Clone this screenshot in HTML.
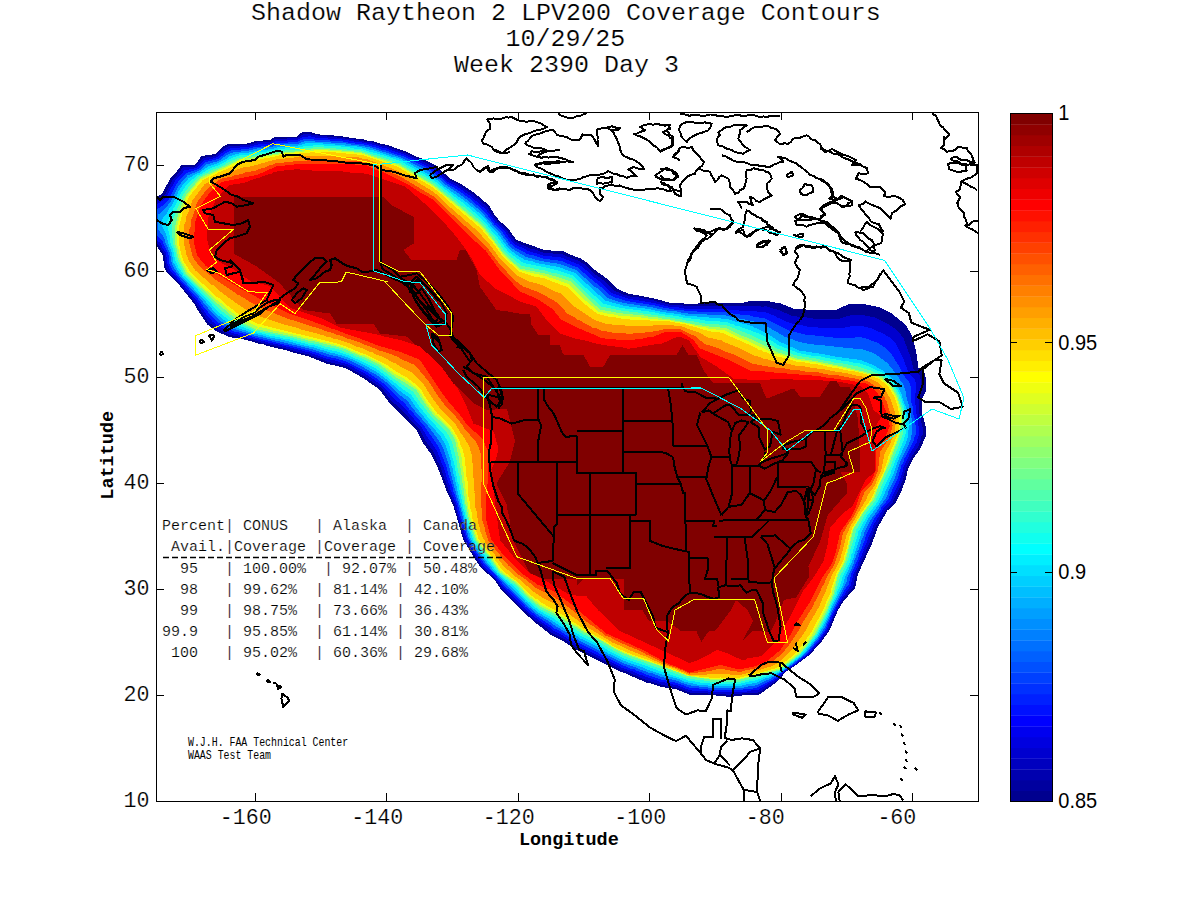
<!DOCTYPE html>
<html><head><meta charset="utf-8"><style>html,body{margin:0;padding:0;background:#fff;width:1200px;height:900px;overflow:hidden}</style></head><body>
<svg width="1200" height="900" viewBox="0 0 1200 900" style="position:absolute;left:0;top:0">
<defs><clipPath id="pc"><rect x="156.5" y="112.5" width="822" height="689"/></clipPath></defs>
<g clip-path="url(#pc)" shape-rendering="crispEdges">
<path fill="#00008f" fill-rule="evenodd" d="M140.0 197.0L140.0 246.0L156.5 246.0L163.0 255.5L164.0 267.0L166.5 272.0L177.5 283.0L194.0 303.5L198.5 311.5L207.5 324.5L216.0 331.0L229.0 337.0L246.5 340.0L260.0 344.0L263.5 344.5L265.5 345.5L289.0 351.0L291.0 352.0L309.0 356.5L326.0 363.5L345.5 368.0L363.0 378.0L379.5 389.5L389.5 403.0L417.0 430.5L423.0 443.0L431.0 454.0L438.5 469.5L446.5 490.5L453.5 506.0L463.0 539.0L473.0 556.0L481.0 568.0L494.0 579.0L501.0 589.5L523.0 611.5L534.5 622.0L550.5 634.5L563.0 641.0L574.0 648.5L589.5 656.0L590.5 657.0L619.5 671.5L625.5 673.5L646.5 682.5L648.0 682.5L661.5 687.0L675.5 689.0L689.0 694.5L716.0 695.5L716.5 696.0L725.0 696.0L725.5 696.5L733.5 696.5L734.0 696.0L741.0 696.0L741.5 695.5L759.5 694.5L777.0 682.0L785.5 672.0L795.5 665.5L809.5 655.0L822.0 641.0L828.0 632.5L830.5 628.0L838.0 610.0L844.0 600.5L855.0 588.0L858.0 574.0L872.0 543.5L878.0 527.0L887.5 510.5L895.0 503.5L902.5 488.5L903.0 486.0L905.5 480.5L908.0 469.0L913.0 459.0L921.0 447.5L925.5 436.5L925.5 425.5L922.5 414.5L922.0 404.0L921.5 403.5L921.5 400.0L925.5 392.0L925.5 389.0L926.0 388.5L926.5 380.0L925.0 376.0L924.5 372.5L923.5 371.0L918.5 367.5L916.5 353.5L912.5 337.0L906.0 325.0L891.5 313.5L878.5 307.0L863.5 304.0L857.0 304.0L856.5 303.5L850.0 303.5L836.5 309.5L813.0 310.0L812.5 309.5L805.5 309.5L805.0 309.0L797.5 309.0L797.0 308.5L793.0 308.5L780.5 303.5L770.0 301.5L767.5 300.5L748.0 301.5L747.5 302.0L744.0 302.0L743.5 302.5L740.0 302.5L735.5 303.5L712.0 302.5L711.5 303.0L684.0 304.0L683.5 303.5L669.0 302.5L654.5 298.5L628.0 293.5L616.5 288.5L606.0 278.0L593.0 268.5L585.5 261.5L580.5 258.5L570.0 254.5L564.0 251.5L544.5 250.0L516.5 240.0L507.0 227.0L499.0 220.5L494.5 214.5L489.0 205.5L474.5 193.0L459.5 183.0L450.0 178.5L435.0 165.0L422.0 158.5L417.5 157.0L407.0 152.0L387.5 145.0L382.0 144.0L372.0 141.0L366.5 140.5L363.5 139.5L348.5 137.5L348.0 137.0L345.0 137.0L341.5 136.0L319.5 134.5L319.0 134.0L316.0 134.0L310.5 132.0L301.5 132.5L296.5 136.5L275.0 137.0L270.0 140.0L256.0 141.0L247.5 143.5L228.0 144.0L223.5 146.0L215.0 154.0L201.5 156.0L195.0 165.0L181.5 165.0L177.5 170.5L171.0 177.0L162.0 194.0L157.0 196.5Z"/>
<path fill="#0000cf" fill-rule="evenodd" d="M145.0 202.0L144.5 204.5L144.5 222.0L144.0 222.5L144.0 242.0L156.5 243.5L159.0 245.5L164.5 254.5L166.0 267.0L168.0 271.0L179.0 282.5L184.0 289.0L190.5 296.0L197.0 304.5L197.5 306.0L208.5 322.0L218.5 329.5L230.0 335.0L238.5 336.5L242.5 338.0L245.0 338.0L258.5 341.5L260.5 342.5L264.0 343.0L266.0 344.0L268.0 344.0L290.0 349.5L297.5 352.0L309.0 354.5L310.5 355.5L323.0 359.5L327.0 361.5L346.0 366.0L364.0 376.0L382.0 388.5L392.0 401.5L398.5 407.0L419.0 428.5L426.0 441.5L434.0 452.5L437.5 461.5L441.0 468.5L449.0 491.5L455.0 505.5L455.5 509.0L457.0 512.5L458.0 518.0L462.0 530.0L462.0 531.5L464.5 539.0L467.0 544.0L482.5 567.5L495.0 578.5L502.5 589.0L519.5 606.0L535.5 620.5L541.0 624.0L551.5 632.5L564.0 639.0L575.0 646.5L620.5 669.5L626.5 671.5L643.5 679.0L659.0 684.0L665.0 685.5L675.5 687.0L677.0 688.0L684.0 690.0L687.0 691.5L688.5 691.5L690.0 692.5L706.0 693.0L710.0 694.0L725.0 694.0L725.5 694.5L733.5 694.5L734.0 694.0L741.0 694.0L741.5 693.5L758.5 692.5L777.0 680.5L784.5 672.0L795.0 665.0L809.5 654.0L811.5 651.0L821.0 640.5L828.0 630.5L834.5 614.5L837.0 609.5L839.0 607.0L839.5 605.0L845.5 596.0L853.0 587.0L856.0 573.5L866.0 551.5L866.5 549.0L869.5 543.0L871.0 537.5L873.0 534.0L875.0 528.0L885.5 509.5L893.0 502.0L894.0 499.0L900.0 487.5L903.5 478.0L903.5 476.5L907.0 465.5L911.0 457.5L918.5 446.0L921.0 439.5L921.5 436.5L922.5 435.0L922.5 427.0L921.0 421.5L920.5 416.5L919.5 414.0L919.0 405.0L918.5 404.5L918.5 398.0L921.0 391.0L921.0 387.5L921.5 387.0L921.0 382.5L921.5 381.5L919.5 375.5L913.5 369.5L910.0 355.5L903.5 338.5L897.5 330.5L886.5 323.0L875.0 317.5L862.5 315.0L851.5 314.5L850.0 315.5L848.5 315.5L839.5 318.5L826.5 318.5L826.0 319.0L825.5 318.5L812.5 318.5L812.0 318.0L792.5 316.0L778.5 310.0L765.0 306.0L763.5 306.5L760.5 306.5L760.0 306.0L728.5 306.5L728.0 306.0L720.5 306.0L720.0 305.5L683.0 306.0L682.5 305.5L668.5 304.5L653.5 300.5L638.5 297.5L632.5 297.0L628.0 296.0L625.0 294.5L623.5 294.5L615.0 291.0L604.5 281.0L595.5 274.5L584.0 264.0L579.0 261.0L565.5 256.0L563.0 254.5L543.0 252.5L535.0 249.5L530.5 248.5L515.5 242.0L505.0 228.0L501.5 225.5L497.5 221.5L489.5 211.0L487.0 206.5L473.5 195.0L458.5 185.0L449.0 180.0L441.5 173.0L432.5 166.0L406.0 153.5L386.5 146.5L381.0 145.5L371.5 142.5L366.0 142.0L351.0 139.0L344.5 138.5L341.0 137.5L336.5 137.5L336.0 137.0L318.5 136.0L318.0 135.5L312.5 135.0L310.0 134.0L302.5 134.5L297.5 138.0L287.0 138.0L286.5 138.5L282.0 138.5L281.5 139.0L275.0 139.0L271.0 141.5L257.0 142.5L248.5 145.0L241.5 145.0L237.5 146.0L229.0 146.0L224.5 148.0L216.0 155.5L213.0 156.5L203.0 158.0L195.5 166.5L183.0 167.5L177.5 174.5L173.0 179.0L165.0 194.5L162.5 197.0L160.0 198.0L158.5 199.5L150.0 200.5Z"/>
<path fill="#0010ff" fill-rule="evenodd" d="M149.5 206.5L149.0 222.0L148.5 222.5L148.5 237.5L156.5 240.0L160.5 243.0L162.5 247.5L166.0 253.0L167.5 264.0L170.0 270.0L195.5 299.0L207.5 316.0L212.5 321.5L220.5 327.5L231.5 333.0L237.0 334.0L240.5 335.5L245.0 336.0L248.5 337.5L263.5 341.0L265.5 342.0L278.0 344.5L303.5 351.0L305.5 352.0L309.5 352.5L327.0 359.0L334.5 360.5L348.0 364.5L365.5 374.0L383.0 386.0L393.0 397.5L402.5 406.0L413.0 417.5L415.0 420.5L421.5 427.0L426.0 435.0L436.5 450.0L440.0 458.0L442.0 464.5L443.5 467.0L443.5 468.5L444.5 470.0L444.5 471.5L446.0 474.5L446.0 476.0L447.0 477.5L447.0 479.0L449.5 485.0L450.5 489.5L456.5 505.0L458.5 514.0L465.5 536.0L465.5 537.5L470.0 546.0L484.0 566.5L496.0 578.0L504.0 588.0L531.5 614.5L539.0 620.5L549.0 627.0L553.0 630.5L561.0 634.5L576.5 644.5L621.5 667.5L631.5 671.0L640.5 675.0L643.0 675.5L645.5 677.0L650.0 678.0L659.5 681.5L672.0 684.0L674.5 685.0L676.5 685.0L688.0 689.5L692.0 690.5L696.5 690.5L697.0 691.0L706.0 691.0L710.0 692.0L733.0 692.5L733.5 692.0L740.5 692.0L741.0 691.5L746.5 691.5L750.5 690.5L758.0 690.0L772.5 681.0L773.5 681.0L781.5 674.5L784.0 671.5L795.0 664.0L806.5 655.0L817.5 643.0L826.5 630.0L836.5 607.5L843.5 595.5L845.5 593.5L846.0 592.0L850.5 586.0L854.0 572.5L857.5 566.0L858.5 562.0L861.5 556.0L862.0 553.5L863.5 551.0L863.5 549.5L867.0 542.0L868.5 536.5L872.0 529.5L873.5 525.0L883.5 508.5L891.0 500.0L893.5 493.5L899.0 482.5L903.0 470.5L903.5 467.0L909.5 454.5L916.5 442.5L919.0 434.5L919.0 426.5L918.5 426.0L918.0 419.5L916.5 414.0L916.0 407.0L914.5 400.0L914.5 396.5L916.0 390.5L916.0 384.5L915.0 380.0L908.5 372.5L903.0 358.0L895.5 343.5L889.5 337.5L883.0 333.5L870.5 328.0L861.5 326.0L856.5 326.0L855.5 325.5L842.5 328.0L831.0 328.0L830.5 327.5L826.5 327.5L826.0 328.0L825.5 327.5L818.0 327.5L817.5 327.0L807.0 326.5L801.5 325.0L798.0 325.0L787.0 322.0L778.5 317.5L777.5 317.5L775.5 316.0L764.5 312.0L759.5 312.0L755.0 311.0L754.0 311.5L750.5 310.5L738.5 310.5L738.0 310.0L735.5 310.5L735.0 310.0L729.5 310.0L726.0 309.0L719.5 309.0L719.0 308.5L702.0 308.5L701.5 309.0L700.5 308.5L684.0 308.5L676.0 307.0L668.0 306.5L651.5 302.5L629.5 299.0L614.0 294.0L611.5 292.5L601.5 283.0L591.0 275.0L586.5 270.5L579.0 264.5L561.0 257.5L543.0 255.5L534.0 252.5L532.5 252.5L527.0 250.5L525.0 249.0L515.0 244.5L512.0 241.5L504.5 231.0L495.5 222.5L486.0 209.5L469.0 195.0L457.5 187.0L447.5 181.5L437.0 172.0L431.5 168.0L405.0 155.0L386.5 148.5L383.0 148.0L379.5 146.5L370.0 144.0L359.5 142.0L356.5 142.0L346.0 140.0L342.0 140.0L341.5 139.5L314.5 137.5L308.5 136.0L308.0 136.5L304.0 136.5L297.5 140.0L287.5 140.0L287.0 140.5L282.0 140.5L281.5 141.0L276.0 141.0L271.0 143.5L257.5 144.5L248.5 147.0L241.5 147.0L237.5 148.0L229.5 148.5L224.5 151.0L216.5 157.5L206.5 160.0L204.5 160.0L196.5 168.0L184.0 170.5L182.5 173.0L175.5 180.5L170.0 190.0L166.5 197.5L159.5 203.0L152.5 205.5L151.0 205.5Z"/>
<path fill="#0050ff" fill-rule="evenodd" d="M154.0 210.5L153.5 222.0L153.0 222.5L153.0 233.0L159.5 237.5L162.5 241.0L164.0 245.5L167.5 251.5L169.0 257.5L169.5 263.5L172.0 269.0L180.0 279.0L198.5 299.5L204.5 308.0L215.0 320.0L222.5 325.5L230.5 330.0L234.5 331.5L246.5 334.5L253.0 337.0L311.5 351.0L313.0 352.0L314.5 352.0L328.5 357.0L336.0 358.5L347.5 362.0L369.5 373.5L384.5 384.0L398.0 398.0L404.0 402.5L409.5 409.5L414.0 414.0L423.5 425.0L438.5 446.5L446.0 465.5L448.5 475.5L452.5 487.0L453.5 492.0L455.5 496.5L455.5 498.5L458.0 504.5L460.5 515.5L468.0 539.5L471.0 545.0L485.0 565.0L496.5 576.5L505.5 587.0L509.5 590.0L525.5 606.5L537.0 616.5L551.0 625.5L554.5 628.5L561.5 632.0L577.0 642.0L592.5 649.5L603.5 656.0L619.5 664.0L630.5 668.5L634.5 669.5L637.0 671.0L641.0 672.0L646.0 674.5L661.5 679.5L677.0 683.0L689.0 687.5L699.0 688.5L699.5 689.0L706.0 689.0L710.0 690.0L732.5 690.5L733.0 690.0L740.5 690.0L748.0 688.5L752.5 688.5L757.0 687.5L774.5 678.5L783.5 671.0L794.5 663.5L804.5 655.5L809.5 650.5L819.0 639.0L825.5 629.0L832.5 612.5L837.0 604.5L837.0 603.5L845.0 589.5L848.5 584.5L851.0 574.5L858.0 558.5L859.5 553.0L862.5 546.5L863.0 543.5L864.5 541.0L866.0 535.0L873.0 520.5L881.0 509.0L881.5 507.5L888.5 499.0L888.5 498.0L898.0 477.5L901.5 465.5L903.5 462.0L904.5 458.5L914.0 440.0L914.0 438.0L915.5 434.5L915.5 425.0L915.0 424.5L915.0 420.5L913.5 414.5L912.5 406.0L911.0 401.0L910.5 386.5L909.5 384.5L909.5 382.5L903.5 375.0L901.0 369.5L892.0 355.0L885.5 348.0L878.0 343.0L864.5 338.0L859.5 337.0L855.0 337.0L854.5 337.5L833.0 337.5L832.5 337.0L815.5 336.0L815.0 335.5L807.0 335.0L787.5 330.0L765.0 318.5L760.5 318.0L756.5 316.5L753.0 316.5L750.5 315.5L735.0 314.0L727.5 312.5L718.5 312.0L718.0 311.5L697.0 311.5L696.5 311.0L686.0 311.0L682.0 310.0L673.5 309.5L673.0 309.0L664.5 308.0L652.5 305.0L626.5 301.0L616.0 297.5L614.5 297.5L608.5 294.5L600.5 286.5L589.0 277.5L578.0 267.5L572.0 265.5L569.5 264.0L568.0 264.0L561.5 261.0L546.5 259.0L546.0 258.5L543.0 258.5L533.5 255.5L530.0 255.0L527.0 254.0L522.5 251.0L521.5 251.0L513.5 246.5L510.5 243.5L501.5 231.0L494.5 224.5L485.0 212.0L469.5 198.5L458.5 190.5L447.0 183.5L440.5 177.5L430.5 170.0L402.5 156.0L392.5 153.0L385.0 150.0L381.5 149.5L378.0 148.0L368.5 145.5L358.5 143.5L355.0 143.5L351.5 142.5L347.5 142.5L347.0 142.0L343.5 142.0L343.0 141.5L335.5 141.0L335.0 140.5L329.5 140.5L329.0 140.0L323.5 140.0L323.0 139.5L314.0 139.5L313.5 139.0L307.0 138.5L306.5 139.0L304.0 139.0L297.0 142.0L288.0 142.0L287.5 142.5L276.5 143.0L272.5 145.0L267.5 145.5L267.0 146.0L261.5 146.0L261.0 146.5L258.0 146.5L250.5 148.0L248.0 149.0L241.5 149.0L241.0 149.5L231.0 150.5L226.5 152.5L218.0 159.0L206.0 162.0L198.5 169.0L186.0 173.0L178.0 182.0L175.0 186.5L168.5 199.5L162.0 206.0L157.0 209.5Z"/>
<path fill="#009fff" fill-rule="evenodd" d="M180.5 183.5L177.0 188.5L170.5 202.0L165.5 208.0L158.5 214.5L158.0 222.0L157.5 222.5L157.5 229.0L162.5 235.0L165.0 240.0L165.5 243.0L170.0 253.0L172.0 264.5L174.5 269.0L180.5 277.0L199.0 297.0L212.0 313.0L222.0 322.0L234.0 329.0L250.5 334.0L252.0 335.0L313.5 349.5L320.0 352.0L321.5 352.0L330.0 355.0L337.5 356.5L349.5 360.5L361.0 366.0L376.5 375.0L386.0 382.0L398.5 394.0L404.5 398.5L408.5 402.5L412.0 407.5L428.0 426.0L437.5 438.5L443.0 447.5L448.5 464.0L454.5 488.0L461.0 509.5L461.0 511.5L462.0 513.5L463.0 519.0L465.0 524.0L468.5 537.0L472.0 544.0L486.0 563.5L494.0 572.5L496.0 574.0L498.0 577.0L506.0 585.0L510.0 588.0L526.5 605.0L537.0 614.0L548.5 621.0L556.0 626.5L567.0 632.5L580.0 641.0L624.0 663.5L636.0 667.5L638.5 669.0L646.5 671.5L648.0 672.5L652.5 673.5L661.5 677.0L677.5 681.0L688.0 685.0L690.0 685.0L692.0 686.0L706.0 687.0L710.0 688.0L732.0 688.5L732.5 688.0L743.5 687.5L744.0 687.0L755.5 685.5L768.0 679.5L769.0 679.5L781.0 672.5L802.0 656.5L808.5 650.0L818.5 637.5L825.5 626.0L828.0 619.5L831.0 614.0L832.0 610.5L846.5 582.5L847.5 577.5L854.0 563.0L854.0 561.5L857.5 553.0L857.5 551.5L859.0 549.0L859.0 547.5L860.5 544.5L861.0 541.5L863.5 535.5L863.5 534.0L869.0 523.5L869.0 522.5L879.0 508.0L879.5 506.5L885.5 498.5L888.0 493.5L888.5 491.0L895.5 476.5L901.0 460.0L909.0 443.5L911.0 438.5L911.0 436.5L912.0 434.0L911.5 417.5L910.5 414.5L910.5 412.0L909.5 410.0L909.0 405.5L907.0 400.0L906.0 393.0L903.5 384.5L901.0 381.5L897.5 375.5L889.0 365.0L885.5 361.5L878.0 356.0L871.5 352.0L867.0 351.0L860.5 348.5L852.5 348.5L852.0 348.0L834.5 347.0L834.0 346.5L825.5 346.0L825.0 345.5L814.0 344.5L813.5 344.0L807.0 343.5L799.5 342.0L784.5 336.5L764.5 325.0L750.5 320.5L748.0 320.5L741.5 318.5L739.0 318.5L726.0 315.5L688.0 313.5L687.5 313.0L683.5 313.0L676.5 311.5L669.0 311.0L650.5 307.0L623.5 303.0L610.0 299.0L605.5 296.5L597.0 288.0L594.5 286.5L576.0 270.0L560.0 264.0L541.0 261.0L526.0 257.0L512.0 248.5L509.5 246.0L500.5 233.5L494.0 227.0L490.5 222.0L480.0 210.5L465.5 198.5L456.0 191.5L445.0 184.5L438.5 178.5L429.5 172.0L402.5 158.0L383.5 151.5L382.0 151.5L369.5 147.5L365.5 147.0L363.5 146.0L353.5 145.0L346.0 143.5L336.5 143.0L336.0 142.5L330.5 142.5L330.0 142.0L324.5 142.0L324.0 141.5L314.5 141.5L314.0 141.0L305.0 141.0L299.0 143.5L277.0 145.0L272.0 147.0L257.5 148.5L247.0 151.0L241.5 151.0L241.0 151.5L233.0 152.5L228.5 154.0L218.5 161.0L206.5 164.5L199.5 170.5L187.5 175.5Z"/>
<path fill="#00dfff" fill-rule="evenodd" d="M182.5 185.5L178.5 191.5L172.5 204.5L170.0 207.5L166.0 214.5L163.5 217.0L162.5 219.0L162.0 226.0L165.5 232.5L167.0 237.0L168.0 243.0L171.5 251.5L173.5 262.5L176.0 267.5L183.0 277.5L205.0 300.5L207.0 303.5L217.0 314.5L224.0 320.0L234.0 326.5L243.5 330.0L245.0 330.0L249.0 332.0L250.5 332.0L253.0 333.5L261.0 335.0L265.5 336.5L267.5 336.5L269.5 337.5L281.0 339.5L306.0 346.0L314.0 347.5L331.5 353.0L337.5 354.0L339.0 355.0L340.5 355.0L350.5 358.5L367.0 366.5L376.5 372.0L385.5 378.5L400.0 391.0L407.0 396.0L410.5 399.5L416.5 408.0L428.5 422.5L440.0 435.5L445.5 444.5L450.5 460.5L451.0 464.5L452.5 468.5L452.5 470.5L455.0 479.0L456.0 485.0L457.0 487.0L457.0 489.0L464.5 519.0L466.5 524.0L466.5 525.5L469.5 533.5L470.5 538.0L473.0 543.0L485.0 559.5L497.5 574.5L507.0 583.5L510.5 586.0L525.5 601.5L537.5 612.0L552.0 620.5L559.0 625.5L574.0 634.0L580.5 638.5L596.0 646.0L608.5 653.5L618.5 658.5L632.0 664.0L643.0 667.5L645.5 669.0L663.5 675.0L678.5 679.0L685.5 682.0L697.5 684.5L706.5 685.0L710.0 686.0L740.0 686.0L743.0 685.0L755.5 683.0L765.5 678.5L770.5 677.0L781.0 671.5L800.5 656.5L807.0 650.0L817.0 637.5L827.0 619.5L831.0 609.5L843.0 584.5L845.5 576.0L852.0 562.0L852.0 560.5L853.5 557.5L853.5 556.0L854.5 554.5L855.0 551.5L856.0 550.0L860.5 536.0L861.0 532.5L869.0 517.5L879.0 504.0L884.5 494.5L885.5 491.0L893.5 474.0L897.0 463.0L906.0 442.5L908.0 436.5L908.5 430.0L909.0 429.5L908.5 428.0L908.5 418.0L906.5 409.0L902.5 398.0L902.0 395.0L897.0 385.0L893.5 380.0L882.0 369.5L881.0 369.5L872.0 364.5L860.5 360.0L848.5 358.5L845.0 357.5L842.0 357.5L841.5 357.0L838.5 357.0L838.0 356.5L835.0 356.5L834.5 356.0L825.5 355.0L825.0 354.5L799.5 350.5L779.0 341.5L769.0 334.5L756.5 328.0L755.0 328.0L752.5 326.5L745.0 324.0L743.5 324.0L738.5 322.0L736.5 322.0L727.5 319.0L684.5 315.5L681.5 314.5L662.5 312.0L648.5 309.0L625.0 306.0L605.0 300.5L575.0 273.0L558.5 267.0L536.5 263.0L532.5 261.5L525.0 260.0L515.5 254.0L513.5 252.0L512.0 251.5L507.0 246.5L498.0 234.0L493.0 229.0L487.0 221.0L478.0 212.0L466.0 202.0L444.5 186.5L439.0 181.5L431.0 175.5L401.5 159.5L392.5 156.5L391.0 156.5L389.5 155.5L374.0 150.5L366.5 149.0L364.5 148.0L357.0 146.5L347.5 146.0L339.5 144.5L334.5 144.5L334.0 144.0L329.0 144.0L328.5 143.5L323.0 143.5L322.5 143.0L316.5 143.0L316.0 143.5L312.0 143.0L311.0 143.5L310.5 143.0L307.0 143.0L298.5 145.5L278.0 147.0L274.0 148.5L271.5 148.5L268.0 149.5L261.0 150.0L246.0 153.0L238.5 153.5L230.0 156.0L227.5 158.0L217.5 163.5L208.0 166.5L199.0 173.0L196.5 173.5L188.5 178.5Z"/>
<path fill="#20ffdf" fill-rule="evenodd" d="M185.0 187.0L180.0 194.5L177.5 201.5L172.5 210.0L172.5 211.0L167.0 221.5L167.5 227.0L170.0 237.0L170.5 243.0L173.0 249.5L175.0 260.0L178.5 267.5L182.5 273.0L183.5 275.5L198.0 290.0L219.0 312.5L234.5 324.0L251.5 330.5L254.0 332.0L264.5 334.0L269.0 335.5L273.5 336.0L276.0 337.0L278.0 337.0L282.5 338.5L289.5 339.5L308.5 344.5L314.5 345.5L329.5 350.0L339.0 352.0L351.5 356.5L355.0 358.5L359.5 360.0L377.5 369.5L404.0 390.0L411.0 394.5L419.0 406.0L429.0 418.5L443.0 433.5L448.5 442.5L455.0 467.0L456.0 474.5L457.0 477.0L457.5 481.5L458.5 484.0L459.0 488.5L460.0 491.0L464.0 511.0L465.0 513.0L465.0 515.0L473.5 541.0L497.5 572.5L502.0 577.0L513.0 585.5L526.0 599.5L539.0 610.5L553.5 618.5L559.0 622.5L582.0 636.5L599.5 645.0L612.5 653.0L625.5 659.0L649.0 667.0L650.5 668.0L655.0 669.0L658.0 670.5L679.5 677.5L681.0 677.5L688.0 680.5L699.0 682.0L699.5 682.5L710.0 683.5L710.5 684.0L739.5 684.0L749.0 681.5L754.0 681.0L777.0 672.5L782.5 669.5L802.0 654.0L815.5 637.5L826.0 618.5L834.0 599.5L836.5 595.0L837.0 592.5L841.0 583.0L842.5 577.0L849.5 562.5L851.5 554.5L852.5 553.0L856.0 540.0L857.5 536.5L858.5 531.5L867.0 516.0L876.5 503.5L881.5 494.5L883.5 488.5L890.5 474.0L891.5 470.0L893.5 466.5L895.5 460.0L899.0 452.5L900.0 448.5L901.5 446.0L902.0 443.5L903.0 442.5L906.0 432.0L906.0 420.5L906.5 418.5L904.0 406.0L903.0 404.5L900.5 395.5L892.5 381.5L883.0 373.0L868.5 366.5L858.0 363.0L855.5 363.0L844.0 360.5L841.0 360.5L840.5 360.0L838.0 360.0L832.0 358.5L829.5 358.5L829.0 358.0L826.5 358.0L820.5 356.5L811.5 355.5L798.5 353.0L784.0 347.5L781.5 346.0L779.0 345.5L765.5 337.0L757.5 333.0L737.0 325.5L735.5 325.5L733.0 324.0L731.5 324.0L727.0 322.0L712.0 321.0L711.5 320.5L704.5 320.5L704.0 320.0L700.5 320.0L700.0 319.5L693.0 319.0L689.0 318.0L685.5 318.0L676.5 316.0L661.0 314.0L652.5 312.0L621.0 308.0L603.5 303.5L586.0 288.0L573.0 275.5L557.0 270.0L555.0 270.0L550.5 268.5L523.5 263.0L508.0 251.5L497.0 236.5L491.0 230.0L485.5 222.5L476.5 214.0L462.0 202.0L458.0 199.5L447.0 190.5L445.5 190.0L437.0 182.5L432.0 179.5L430.0 177.5L400.0 161.0L380.5 154.5L367.0 151.0L362.0 149.0L353.5 148.5L350.0 147.5L341.0 147.0L340.5 146.5L323.5 145.5L323.0 145.0L316.5 145.0L316.0 145.5L313.0 145.0L312.5 145.5L306.5 145.5L298.5 147.5L278.5 149.0L276.5 150.0L274.0 150.0L264.5 152.0L261.0 152.0L246.0 155.0L239.0 155.5L231.5 158.0L220.5 164.5L210.5 168.0L200.0 174.5L198.0 175.0L191.0 180.5Z"/>
<path fill="#60ff9f" fill-rule="evenodd" d="M185.5 191.0L182.5 196.0L180.0 203.0L175.5 212.0L174.5 216.0L172.0 221.5L172.0 224.5L171.5 225.0L173.0 244.0L175.0 249.0L177.0 259.5L185.0 274.5L221.0 310.5L236.0 322.0L255.0 330.5L290.0 337.5L308.5 342.5L321.0 345.0L325.0 346.5L339.5 349.5L350.0 354.0L352.5 354.5L356.0 356.5L363.0 359.0L378.5 367.0L394.0 379.0L413.5 392.0L420.5 402.5L431.5 417.0L446.0 431.0L452.0 441.5L456.5 460.0L458.0 471.5L459.5 476.0L460.0 482.5L466.5 515.0L474.5 540.0L489.5 559.0L499.5 573.0L511.5 582.5L515.0 584.5L527.0 598.0L539.5 608.5L555.0 616.5L583.5 634.5L601.0 643.0L617.5 653.0L629.5 658.0L645.5 663.0L647.0 664.0L666.0 670.5L669.0 671.0L687.0 678.0L697.5 680.0L703.5 680.5L704.0 681.0L710.0 681.5L710.5 682.0L739.0 682.0L757.5 677.5L762.0 675.5L769.0 674.0L772.0 672.5L780.5 670.0L799.5 655.0L803.5 650.0L805.0 649.0L816.0 634.5L827.5 612.0L829.5 606.0L831.5 602.5L834.0 595.5L835.0 594.5L835.0 593.0L838.5 583.0L840.5 575.0L844.0 569.0L848.0 560.0L850.5 549.5L855.0 535.5L856.0 530.0L863.0 518.5L864.5 515.0L876.0 500.0L877.0 496.5L880.5 489.5L881.0 487.0L891.5 464.5L893.0 459.0L895.0 455.5L902.5 435.0L904.5 418.5L904.0 418.0L903.0 409.0L899.5 399.0L899.0 396.0L891.5 383.5L888.0 380.0L883.5 377.0L882.5 375.5L880.0 374.0L874.5 372.5L870.5 370.5L857.5 366.5L837.5 362.5L834.5 362.5L829.0 361.0L826.5 361.0L816.0 358.5L798.5 356.0L795.0 354.5L793.5 354.5L788.0 352.0L781.0 350.0L779.5 349.0L778.0 349.0L764.0 341.0L762.0 340.5L752.5 335.5L726.0 325.0L712.0 324.0L711.5 323.5L704.5 323.5L704.0 323.0L701.5 323.0L692.0 321.0L688.5 321.0L677.5 318.5L675.0 318.5L662.5 316.0L659.5 316.0L656.0 315.0L645.0 314.0L635.0 312.0L623.0 311.0L601.5 306.5L588.5 295.0L571.5 278.5L553.5 272.5L551.5 272.5L543.5 270.0L538.5 269.5L521.0 265.5L506.0 253.0L494.0 236.5L489.0 231.0L484.0 224.0L466.0 208.5L461.5 205.5L446.0 192.5L444.5 192.0L436.0 184.5L426.5 178.0L411.5 170.0L400.0 163.0L361.0 150.5L346.5 149.5L346.0 149.0L341.5 149.0L341.0 148.5L335.5 148.5L335.0 148.0L330.0 148.0L329.5 147.5L324.0 147.5L323.5 147.0L317.0 147.0L316.5 147.5L313.5 147.0L313.0 147.5L304.5 148.0L302.5 149.0L299.5 149.0L299.0 149.5L278.5 151.0L277.0 152.0L274.5 152.0L265.0 154.0L261.0 154.0L246.5 157.0L239.5 157.5L232.0 160.5L220.0 167.0L211.5 170.0L207.0 173.0L206.0 173.0L201.0 176.0L199.0 176.5L190.0 185.5Z"/>
<path fill="#afff50" fill-rule="evenodd" d="M187.0 193.5L185.0 197.0L179.0 211.5L175.0 226.5L175.0 243.5L177.0 250.0L177.0 252.0L179.0 259.5L186.5 274.0L214.5 301.0L237.0 320.0L255.5 329.0L291.0 336.0L308.5 340.5L310.5 340.5L332.5 346.0L334.5 346.0L344.5 349.0L360.5 356.0L364.0 357.0L380.0 365.0L395.5 377.0L416.0 389.5L424.5 403.0L434.0 415.5L449.0 429.0L455.0 440.0L459.0 458.5L459.0 461.5L460.0 465.0L460.0 468.0L460.5 468.5L460.5 471.5L461.5 475.0L461.5 478.0L462.0 478.5L462.0 481.5L463.0 485.0L463.0 488.0L463.5 488.5L465.5 503.5L466.5 506.0L468.5 517.0L476.0 540.0L491.0 558.5L500.5 572.5L516.0 583.0L528.0 596.5L540.5 607.0L556.0 614.5L584.5 632.5L602.0 641.0L618.5 651.0L630.5 656.0L670.0 669.0L687.5 676.0L710.0 679.5L710.5 680.0L738.5 680.0L780.0 669.5L801.0 652.5L815.0 634.0L826.5 611.5L833.5 594.0L838.0 575.0L845.5 561.0L853.5 529.0L863.5 512.5L874.0 499.0L878.5 486.0L889.5 463.0L900.0 434.0L901.0 425.5L902.5 419.0L902.5 416.0L902.0 415.5L901.5 409.5L898.0 399.0L898.0 397.5L890.0 384.0L881.0 377.0L860.5 370.5L858.5 370.5L842.5 366.5L815.0 361.0L797.5 358.5L779.0 352.5L777.5 352.5L750.5 339.0L741.5 335.5L725.5 328.0L703.0 326.0L700.0 325.0L697.5 325.0L665.0 318.5L662.0 318.5L661.5 318.0L658.5 318.0L658.0 317.5L648.0 316.5L647.5 316.0L644.0 316.0L643.5 315.5L622.5 313.5L622.0 313.0L619.0 313.0L618.5 312.5L616.0 312.5L600.0 309.5L587.0 298.0L570.0 281.0L547.5 274.0L520.0 268.5L504.0 254.0L482.5 225.5L433.0 184.5L399.0 164.5L360.5 152.0L318.0 148.5L317.5 149.0L304.5 150.0L300.0 151.0L278.5 153.0L278.0 153.5L239.5 159.5L200.0 178.0Z"/>
<path fill="#efff10" fill-rule="evenodd" d="M188.5 194.0L186.5 197.5L184.0 205.0L180.5 212.5L176.5 229.0L176.5 242.5L178.5 249.0L180.0 257.0L182.5 263.0L185.0 266.5L188.0 273.0L215.5 299.0L220.5 302.5L228.0 309.5L235.0 314.5L237.5 317.0L256.5 326.5L265.0 328.0L273.0 330.5L282.5 332.0L284.5 333.0L291.5 334.0L293.5 335.0L299.5 336.0L303.0 337.5L305.0 337.5L309.5 339.0L316.0 340.0L320.0 341.5L328.5 343.0L344.5 347.5L360.5 354.5L364.5 355.5L381.0 363.5L396.5 375.0L403.5 378.5L417.0 388.0L419.5 391.0L426.0 402.0L435.5 414.5L450.5 428.5L451.5 431.0L455.0 436.0L457.5 441.5L458.5 447.0L459.5 448.5L461.5 457.0L461.5 460.5L462.0 461.0L463.0 470.5L464.0 474.0L465.0 487.0L466.5 494.0L466.5 497.5L468.0 504.0L468.0 507.0L470.5 518.0L477.0 539.0L480.0 543.5L493.5 560.0L500.5 570.5L503.5 573.5L516.5 582.0L529.0 595.5L541.5 605.5L554.0 611.5L568.5 620.5L571.5 623.0L578.0 626.5L585.0 631.5L593.5 635.5L618.5 650.0L630.5 655.0L637.5 657.0L640.0 658.5L664.0 666.5L666.5 668.0L686.0 675.0L687.5 676.0L695.0 676.5L702.0 678.0L707.0 678.0L711.0 679.0L720.0 679.0L720.5 678.5L721.0 679.0L738.5 679.0L758.0 674.5L761.0 673.0L779.0 668.5L796.0 655.0L799.5 651.5L812.0 635.0L825.0 610.5L828.0 602.0L832.0 593.5L832.5 590.0L835.0 583.0L837.0 574.5L841.0 568.0L844.5 560.5L845.0 557.0L847.0 551.5L851.0 534.5L853.0 528.5L862.0 513.5L866.0 508.5L866.0 507.5L871.5 501.0L871.5 500.0L874.0 496.0L876.0 490.0L877.5 488.0L878.0 485.5L883.5 474.5L885.5 469.5L885.5 468.0L888.5 462.5L890.5 455.0L891.5 454.0L892.0 451.5L894.5 446.5L899.0 433.5L900.0 425.0L901.0 421.5L901.0 416.0L900.5 415.5L900.5 412.0L899.5 407.5L896.0 396.5L889.0 385.0L878.5 377.0L874.0 376.0L869.5 374.0L866.0 373.5L860.0 371.5L858.0 371.5L842.0 367.5L829.5 365.0L827.0 365.0L816.5 362.5L797.0 360.0L779.5 354.5L775.5 354.0L761.0 347.0L760.0 347.0L749.5 341.5L740.5 338.0L724.5 330.5L707.5 328.5L705.5 327.5L697.5 326.5L696.0 325.5L694.0 325.5L691.5 324.5L679.0 322.0L673.5 321.5L670.5 320.5L665.0 320.0L664.5 319.5L658.0 319.5L654.5 318.5L647.5 318.5L647.0 318.0L643.0 318.0L638.0 317.0L630.5 317.0L630.0 316.5L621.5 316.0L621.0 315.5L618.0 315.5L609.0 313.5L606.5 313.5L598.5 311.5L582.5 298.0L568.5 284.0L551.5 278.0L550.0 278.0L547.0 276.5L519.5 270.0L503.0 254.5L492.5 240.0L489.5 237.0L482.0 227.0L432.5 185.5L398.5 165.5L360.0 153.0L328.0 150.5L327.5 150.0L314.5 150.0L314.0 150.5L279.0 154.0L278.5 154.5L265.0 156.5L263.0 157.5L240.5 161.0L229.0 166.5L226.5 167.0L222.0 169.5L219.5 170.0L214.0 173.0L213.0 173.0L212.0 174.0L200.5 179.5Z"/>
<path fill="#ffcf00" fill-rule="evenodd" d="M189.5 196.0L186.5 202.0L185.5 206.0L182.5 212.5L178.5 229.0L178.5 242.0L182.0 257.0L184.0 262.0L186.5 265.5L189.5 271.5L217.0 297.0L219.0 298.0L225.5 304.0L239.0 314.5L258.0 324.0L337.0 343.5L346.0 346.5L361.0 353.0L365.0 354.0L385.5 364.0L396.0 371.5L406.0 377.0L418.0 386.0L421.0 389.5L426.5 399.0L437.5 413.5L450.5 425.5L459.0 439.5L460.0 443.5L463.0 450.5L464.5 457.0L464.5 460.5L465.0 461.0L466.5 476.5L467.0 477.0L467.0 481.0L467.5 481.5L468.5 496.5L469.0 497.0L470.5 509.0L471.5 511.5L472.5 518.5L478.5 538.5L483.5 546.0L497.0 562.5L502.0 570.0L512.0 578.0L517.0 581.0L529.5 594.0L536.0 599.0L537.5 599.5L540.0 602.0L558.5 612.0L560.0 613.5L565.5 616.5L572.0 621.5L576.0 623.5L586.0 630.5L603.0 639.5L610.5 644.5L619.0 649.0L633.5 655.0L648.5 660.0L655.0 663.0L664.0 666.0L666.5 667.5L670.5 668.5L690.0 676.0L708.0 677.0L708.5 677.5L720.0 677.5L720.5 677.0L721.0 677.5L738.0 678.0L757.5 673.5L761.0 672.0L764.5 671.5L774.5 668.5L776.0 667.5L777.5 667.5L790.0 658.0L798.0 650.5L811.5 632.0L824.0 608.0L826.5 601.0L830.5 592.5L830.5 591.0L836.0 574.0L840.5 566.5L843.5 560.0L844.0 556.5L847.5 545.5L849.0 537.0L850.0 535.5L852.0 528.0L855.5 523.0L861.0 513.0L870.0 500.5L874.5 491.5L874.5 490.5L876.5 487.5L877.0 485.0L884.0 470.5L884.5 467.5L886.5 463.5L889.0 454.5L890.0 453.5L891.0 450.0L892.5 447.5L898.0 432.5L899.0 427.5L899.5 416.0L898.0 408.0L894.5 397.0L887.5 385.5L879.0 379.0L869.0 375.0L855.0 371.5L845.0 370.0L837.0 368.0L834.5 368.0L813.5 363.5L809.5 363.5L809.0 363.0L796.5 361.5L786.5 358.5L775.0 356.0L766.0 352.0L763.5 351.5L760.0 349.5L758.5 349.5L748.0 344.0L747.0 344.0L741.5 341.0L738.0 340.0L724.0 333.5L720.0 332.5L712.5 332.0L709.0 330.5L707.0 330.5L705.0 329.5L703.0 329.5L695.5 327.0L690.0 326.0L688.5 325.0L672.5 322.0L670.0 322.0L669.5 321.5L629.5 319.5L629.0 319.0L620.5 318.5L620.0 318.0L607.5 316.5L597.5 314.0L581.5 301.5L567.0 287.0L544.5 278.5L534.5 276.5L519.0 271.5L502.0 255.5L493.0 243.0L481.0 228.5L448.0 200.5L443.0 195.5L431.5 186.5L398.0 167.0L362.5 155.0L357.0 154.5L356.5 154.0L345.5 153.5L345.0 153.0L327.5 152.0L327.0 151.5L315.0 151.5L314.5 152.0L310.0 152.0L309.5 152.5L279.0 155.5L270.0 157.5L267.5 157.5L258.0 160.0L255.5 160.0L253.5 161.0L240.5 163.0L221.0 171.5L219.5 171.5L202.5 180.5Z"/>
<path fill="#ff8f00" fill-rule="evenodd" d="M192.0 201.0L191.0 205.0L189.0 209.0L189.0 210.5L186.5 216.0L185.5 222.0L184.5 224.5L184.0 233.0L183.5 233.5L183.5 242.5L185.0 247.0L186.5 255.0L189.0 261.0L195.5 270.5L211.5 284.5L213.5 285.5L219.0 290.5L238.0 304.5L239.5 305.0L244.0 308.5L261.0 317.0L284.0 324.5L298.0 328.0L301.5 329.5L324.0 335.5L327.5 337.0L331.0 337.5L334.5 339.0L338.0 339.5L351.0 344.0L357.5 347.0L361.5 348.0L370.0 352.0L372.5 352.5L377.0 355.0L383.0 357.0L394.0 363.0L395.0 363.0L401.0 367.0L410.5 371.5L423.0 383.5L431.5 397.0L440.5 409.0L456.0 425.0L460.0 432.0L464.5 438.0L470.0 448.0L470.0 449.5L472.0 455.0L472.0 460.5L473.0 465.0L473.5 478.0L474.0 478.5L473.5 479.0L474.0 480.0L474.0 491.0L474.5 491.5L474.0 493.0L474.5 493.5L474.5 499.5L475.0 500.0L475.5 508.0L476.5 511.0L476.5 514.5L477.5 517.5L477.5 520.5L480.0 528.0L480.5 531.5L482.0 535.0L482.0 536.5L484.5 540.5L484.5 541.5L504.0 566.5L516.0 577.0L520.0 579.5L533.0 591.5L545.5 599.5L549.5 601.0L558.5 606.5L588.5 628.0L612.5 642.5L613.5 642.5L617.5 645.0L618.5 645.0L630.0 650.5L647.0 657.0L664.0 665.0L674.5 668.5L688.5 674.5L706.5 674.5L707.0 674.0L725.0 673.5L730.0 674.5L740.0 675.0L758.5 670.5L765.0 668.0L769.5 667.0L777.5 663.0L785.5 656.5L794.0 647.5L807.0 628.5L809.0 624.0L819.5 606.0L823.0 597.0L826.0 591.5L826.5 589.0L832.5 574.0L837.0 566.5L840.0 560.0L846.0 537.5L846.0 535.5L848.0 532.0L850.0 526.5L856.0 517.5L857.5 514.0L866.0 500.0L868.0 495.0L874.0 486.5L876.5 481.5L877.5 478.0L881.5 469.5L884.5 454.0L890.5 443.0L895.0 431.0L895.5 424.5L896.0 424.0L895.5 422.5L895.5 416.0L894.0 409.0L891.0 400.0L885.0 389.5L877.5 382.5L870.0 378.5L858.5 375.5L856.0 375.5L846.0 373.0L843.0 373.0L840.5 372.0L834.5 371.5L819.5 368.5L816.5 368.5L813.5 367.5L809.5 367.5L802.0 366.0L794.5 365.5L784.5 363.0L772.0 361.0L766.5 359.0L763.0 358.5L760.0 357.0L755.0 356.0L740.5 348.5L724.0 342.0L721.5 340.5L708.0 337.5L700.0 333.0L680.5 326.0L666.5 325.0L666.0 324.5L665.5 325.0L663.0 324.5L662.5 325.0L652.5 325.5L652.0 326.0L625.0 326.0L624.5 325.5L612.0 324.5L609.0 323.5L605.5 323.5L594.5 320.0L573.5 306.0L561.0 293.5L556.5 292.0L542.0 285.0L527.5 281.0L516.5 275.0L499.5 258.0L490.5 245.5L478.0 231.5L451.0 208.0L437.5 195.0L432.0 191.0L415.0 180.5L397.0 170.5L367.5 159.5L363.0 159.0L358.5 157.5L345.5 157.0L345.0 156.5L339.0 156.5L338.5 156.0L327.5 156.0L327.0 155.5L315.0 155.5L314.5 156.0L298.5 156.5L298.0 157.0L275.5 159.5L250.5 166.5L242.5 167.5L231.0 172.0L229.5 172.0L220.5 175.0L215.5 177.5L204.5 184.5Z"/>
<path fill="#ff4000" fill-rule="evenodd" d="M207.0 189.0L197.0 202.5L193.0 215.5L191.5 218.5L190.5 223.0L190.5 226.5L189.5 229.5L189.0 242.0L193.0 257.5L200.0 267.0L215.5 279.5L237.5 294.5L240.0 295.5L241.5 297.0L244.0 298.0L249.0 301.5L268.0 311.0L269.5 311.0L272.0 312.5L291.0 320.0L296.0 321.0L313.0 327.0L314.5 327.0L322.0 329.5L325.0 331.0L333.0 333.0L336.0 334.5L339.0 335.0L347.5 338.5L358.5 342.0L365.0 345.0L369.0 346.0L379.5 350.5L388.0 353.0L398.0 357.0L402.0 359.5L415.0 365.0L428.0 380.5L438.0 396.0L446.0 406.5L456.5 417.5L464.0 427.5L464.5 429.0L475.5 441.0L477.5 444.5L480.5 453.0L480.5 463.5L481.0 464.0L481.0 469.0L481.5 469.5L481.5 478.5L481.0 479.0L481.5 479.5L481.5 482.0L481.0 482.5L481.0 493.0L480.5 493.5L481.0 505.5L482.0 510.0L482.5 521.0L484.5 527.0L486.0 534.5L487.0 536.0L488.0 540.0L490.0 543.0L500.5 555.5L503.5 560.0L508.5 565.5L519.0 575.0L524.5 578.5L536.0 588.0L543.5 592.0L545.5 592.5L546.5 593.5L547.5 593.5L548.5 594.5L551.5 595.5L560.5 601.5L577.5 614.0L589.5 624.0L593.0 626.0L605.5 635.5L610.5 637.5L618.5 642.0L641.5 651.5L646.5 654.5L647.5 654.5L668.0 665.0L683.0 670.5L689.5 673.5L705.5 671.5L709.0 670.5L712.5 670.5L718.0 669.0L723.0 669.0L726.0 670.0L740.0 672.0L744.5 670.5L755.0 668.5L756.5 667.5L758.0 667.5L762.5 665.5L765.5 665.0L773.5 660.5L781.0 654.5L788.5 646.0L799.0 630.0L802.5 623.0L814.0 604.5L814.5 602.5L819.5 593.5L822.0 587.0L823.5 585.0L827.0 576.5L834.5 564.5L839.5 549.5L843.0 533.0L845.0 530.5L847.0 526.0L853.0 517.5L859.5 505.0L864.5 492.5L872.5 483.5L878.0 471.0L880.0 452.0L887.0 441.5L891.5 430.0L892.5 425.5L892.0 425.0L891.0 416.0L886.5 401.0L885.5 400.0L884.5 397.0L880.0 390.5L876.5 387.0L867.5 381.0L856.0 379.0L853.5 378.0L851.0 378.0L838.5 375.5L828.0 374.5L818.5 372.5L804.5 371.5L797.0 370.0L792.5 370.0L785.0 368.5L777.0 368.0L773.5 367.0L769.0 367.0L766.5 366.0L763.5 366.0L760.5 365.0L752.5 364.0L735.0 355.0L726.5 352.0L718.0 348.0L704.5 344.0L695.0 336.0L694.0 336.0L693.0 335.0L692.0 335.0L680.5 329.0L664.5 328.5L662.5 329.5L660.5 329.5L658.5 330.5L656.5 330.5L651.5 332.0L626.5 334.0L626.0 333.5L611.5 332.5L611.0 332.0L602.0 331.0L596.5 328.5L592.5 327.5L579.0 320.0L577.0 319.5L574.5 317.5L567.0 313.5L562.5 308.0L555.5 301.5L538.5 292.0L523.0 286.5L514.5 280.0L499.0 263.5L488.0 248.5L474.5 235.0L455.5 217.0L450.0 212.5L434.5 197.0L402.0 177.5L387.0 170.5L384.5 170.0L366.5 162.5L363.0 162.5L360.5 161.5L338.0 160.5L337.5 160.0L307.0 160.0L306.5 160.5L297.5 160.5L297.0 161.0L274.5 163.5L272.0 165.0L270.5 165.0L265.0 167.5L257.5 169.5L254.5 171.0L245.0 172.5L241.5 174.0L234.0 175.5L232.0 176.5L222.0 178.5L219.0 180.0Z"/>
<path fill="#ff0000" fill-rule="evenodd" d="M210.0 192.0L200.5 205.5L195.5 221.0L194.0 238.0L193.5 238.5L193.5 241.5L197.0 255.5L205.5 265.5L218.5 275.0L240.5 288.5L254.0 295.5L259.5 299.0L289.5 313.5L324.0 325.5L331.0 328.5L336.5 330.0L349.0 335.0L354.5 336.5L378.0 345.5L400.5 352.0L418.0 359.0L420.5 360.5L440.5 391.0L449.5 403.0L458.5 413.0L468.0 426.0L482.0 438.0L484.5 443.0L484.5 444.0L487.5 449.5L487.5 463.0L488.0 463.5L488.0 478.5L487.5 479.0L487.5 483.5L487.0 484.0L487.0 488.5L486.5 489.0L486.5 493.5L486.0 494.0L486.5 521.0L491.0 539.0L505.0 557.0L520.5 572.5L537.5 584.5L554.5 591.5L572.5 605.0L585.0 616.0L606.5 633.5L638.5 648.0L639.5 648.0L668.5 664.0L677.0 667.0L689.5 672.5L719.5 665.0L721.5 665.0L739.0 669.5L754.0 666.5L766.5 661.5L780.5 650.0L791.0 634.0L798.0 620.5L810.0 602.0L823.0 576.5L832.0 563.5L836.0 551.5L840.0 532.5L850.5 517.5L856.5 505.5L861.5 490.5L870.5 482.5L876.0 470.0L876.0 450.5L884.0 440.0L889.5 427.0L889.5 425.5L886.0 411.5L881.0 398.5L876.5 392.0L868.5 385.0L865.0 383.0L859.5 382.5L844.5 379.5L841.0 379.5L840.5 379.0L833.5 378.5L833.0 378.0L826.0 377.5L818.0 376.0L786.5 373.5L786.0 373.0L780.5 373.0L780.0 372.5L773.5 372.5L773.0 372.0L750.0 370.5L731.5 361.0L700.0 348.5L693.0 339.5L680.0 331.5L666.0 331.5L654.0 336.5L643.0 338.0L642.5 338.5L639.5 338.5L630.0 340.5L609.5 339.0L609.0 338.5L605.0 338.5L604.5 338.0L599.5 337.5L596.0 335.5L574.5 326.5L561.5 320.0L553.0 309.5L537.5 299.0L520.0 291.5L499.0 269.0L485.5 250.5L472.0 238.5L433.0 199.5L420.5 192.5L407.5 184.0L384.0 172.5L375.5 169.5L365.5 165.0L344.5 164.0L344.0 163.5L298.5 163.5L298.0 164.0L276.0 166.5L257.0 175.0L222.0 182.0Z"/>
<path fill="#bf0000" fill-rule="evenodd" d="M216.0 199.0L208.5 217.5L207.0 234.0L206.5 234.5L207.0 240.0L208.0 242.5L210.0 254.0L211.0 256.0L222.5 263.5L234.5 270.0L251.0 281.5L255.5 283.0L257.5 283.0L270.0 286.0L286.5 304.0L291.0 308.0L320.5 318.0L339.5 327.5L377.5 334.5L384.0 336.5L386.0 336.5L390.5 338.0L400.5 340.0L419.0 346.0L423.5 349.5L440.5 365.5L458.0 389.0L466.5 406.0L473.5 423.5L491.5 430.5L494.0 432.5L498.5 449.0L496.0 458.5L491.5 469.5L491.5 472.5L492.0 473.0L493.0 487.5L493.5 488.0L493.5 492.0L494.0 492.5L494.0 496.0L495.0 500.5L496.5 516.5L497.0 517.0L500.0 540.0L515.5 559.0L530.5 573.5L549.5 583.0L570.0 595.0L586.5 596.5L598.5 610.5L620.0 631.0L689.5 663.0L699.5 659.5L717.0 650.0L725.5 652.5L736.0 657.5L744.0 660.5L747.5 658.5L761.5 656.0L775.0 642.0L789.5 618.0L803.5 590.5L813.5 577.5L823.5 561.0L827.5 545.5L830.0 528.0L842.0 514.0L852.0 506.5L865.0 480.5L874.5 472.0L874.5 448.0L874.0 447.5L873.5 430.5L881.5 416.0L873.5 410.0L868.0 394.0L860.0 386.0L841.0 382.0L823.0 380.5L822.5 380.0L793.0 379.5L792.5 379.0L747.5 380.0L747.0 379.5L733.5 378.5L716.0 366.0L700.5 357.0L688.5 340.0L679.0 336.5L675.5 337.5L662.0 343.5L650.0 345.0L646.5 346.0L643.5 346.0L640.0 347.0L637.0 347.0L636.5 347.5L633.5 347.5L630.0 348.5L627.0 348.5L626.5 348.0L602.5 345.0L598.0 343.5L596.0 343.5L593.5 342.5L591.5 342.5L587.0 341.0L574.5 338.5L561.0 334.0L546.0 319.5L536.5 306.5L521.0 302.0L495.5 288.5L480.0 275.0L473.0 260.5L464.0 247.0L454.5 234.5L443.5 222.0L428.5 207.0L407.5 188.5L404.0 186.0L369.0 174.5L361.5 173.0L349.5 172.5L349.0 172.0L343.5 172.0L343.0 171.5L317.5 171.0L317.0 170.5L311.5 170.5L311.0 170.0L305.5 170.0L305.0 169.5L299.5 169.5L299.0 169.0L279.0 171.0L273.0 172.5L271.5 173.5L263.0 176.0L261.5 177.0L251.5 180.0L244.0 183.0L229.5 185.0Z"/>
<path fill="#800000" fill-rule="evenodd" d="M233.5 196.5L233.5 253.5L256.0 266.0L279.5 283.0L303.5 310.0L330.0 313.5L336.5 323.5L373.5 323.5L380.0 333.5L406.5 336.5L415.0 345.0L420.0 346.5L440.5 365.5L453.5 383.5L473.5 403.5L486.5 410.0L503.0 409.0L503.5 408.5L506.0 408.5L507.0 409.5L515.0 441.0L510.0 461.5L497.5 481.5L496.5 484.0L507.0 505.0L507.5 510.5L508.5 513.5L508.5 516.0L509.5 519.0L509.5 521.5L513.0 540.0L529.0 572.0L530.5 573.5L543.0 578.5L576.0 578.5L576.5 579.0L576.5 586.5L583.5 578.5L623.0 578.5L623.5 579.0L623.5 609.5L642.0 609.5L649.0 621.0L666.5 621.0L680.5 630.5L695.5 630.5L696.5 631.5L701.5 642.0L708.5 631.5L713.5 631.0L716.0 630.0L730.5 610.5L735.5 600.5L737.0 601.0L747.5 610.0L753.0 621.0L742.5 641.0L753.0 631.0L770.5 632.0L776.0 620.5L783.5 601.0L785.5 599.5L796.0 597.5L808.5 577.5L808.5 566.5L820.5 540.5L827.5 516.0L829.5 513.0L846.5 493.5L846.5 482.5L840.5 472.5L841.0 472.0L860.0 472.0L860.0 447.0L859.5 446.5L858.0 419.0L850.0 386.5L840.0 386.5L836.5 381.5L830.5 381.0L820.0 396.5L800.0 396.5L794.5 389.5L793.0 388.5L767.0 398.5L765.0 395.5L760.0 383.0L713.0 383.0L704.0 371.0L696.5 355.0L688.5 355.0L682.5 345.0L676.5 355.0L610.0 355.0L603.5 366.5L590.0 366.5L583.5 355.0L564.0 355.0L563.0 354.0L560.0 345.0L550.5 345.0L550.0 344.5L550.0 335.0L538.5 335.0L531.5 325.0L530.0 313.5L518.5 313.5L518.0 313.0L515.0 313.0L511.5 312.0L496.5 310.0L480.5 287.5L479.5 285.0L476.5 270.0L466.0 250.0L460.0 250.0L457.0 259.0L456.0 260.0L411.5 260.0L403.5 250.0L413.5 243.5L413.5 217.0L390.5 204.5L383.5 196.5Z"/>
<path fill="none" stroke="#000" stroke-width="2" stroke-linejoin="round" d="M480.0 171.2L483.3 169.5L486.7 167.0L488.3 166.2L490.0 171.2L493.3 172.0L496.3 169.3L500.0 167.8L503.4 167.9L506.7 167.0L510.0 168.1L513.3 169.5L516.5 171.0L519.7 172.5L523.3 172.8L526.2 173.7L529.2 174.5L532.3 174.6L535.0 176.2L538.4 176.0L541.7 176.7L545.0 177.0L549.1 178.6L553.3 179.5L556.7 182.0L552.3 182.7L548.3 184.5L548.3 188.7L552.5 189.3L556.7 190.3L559.9 189.3L563.3 189.4L566.7 189.5L570.1 189.8L573.3 188.2L576.7 188.2L580.0 187.8L583.2 189.0L586.7 188.7L590.5 190.5L593.3 193.7L595.0 197.0L597.4 199.2L600.0 201.2L603.3 197.0L600.0 193.7L600.0 187.8L603.1 187.8L605.7 185.7L608.8 185.4L611.7 184.5L615.4 186.1L619.6 185.5L623.3 187.0L626.7 187.9L629.9 189.1L633.3 189.5L636.6 190.2L640.0 190.3L643.3 189.9L646.6 189.0L650.0 189.1L653.3 188.7L657.5 188.4L661.7 188.7L665.0 189.9L668.3 191.2L673.3 190.3L676.7 190.5L680.0 191.2M525.0 142.8L527.7 141.0L529.8 138.7L531.7 136.2L534.9 134.7L538.4 134.1L541.7 132.8L544.5 131.6L547.5 131.1L550.3 130.1L553.3 129.5L555.2 132.6L557.5 135.3L560.6 135.7L563.6 136.4L566.7 137.0L569.8 139.0L573.3 140.3L576.6 139.8L580.0 139.5L582.5 134.5L586.2 135.2L590.0 134.5L592.9 137.0L595.0 140.3L596.3 143.5L598.3 146.2L597.9 142.8L597.5 139.5L597.6 136.1L597.0 132.8L596.7 129.5L600.8 128.5L605.0 127.8L608.2 128.4L610.9 130.0L613.3 132.0L614.7 135.5L616.7 138.7L618.3 142.8L620.0 147.0L620.5 150.4L621.7 153.7L624.0 156.0L627.1 157.3L630.0 158.7L633.7 159.6L636.8 161.7L640.0 163.7L642.0 166.3L644.2 168.7L638.3 168.7L633.3 167.0L628.3 169.5L631.1 171.2L633.3 173.7L636.7 176.2L633.2 175.9L629.9 176.5L626.7 177.8L623.5 176.2L620.0 175.8L616.9 174.1L613.3 173.7L608.3 171.2L604.4 173.4L600.0 174.5L596.7 175.3L593.3 175.4L589.9 175.3L586.7 176.2L583.3 177.2L580.2 178.9L576.8 179.6L573.3 180.3L569.9 180.1L566.6 179.6L563.3 178.7L558.3 176.2L555.2 175.7L552.4 174.2L549.6 173.1L546.7 172.0L543.6 169.9L540.2 168.2L536.7 167.0L535.0 164.5L538.3 163.7L541.6 162.8L545.0 162.0L548.4 162.3L551.7 162.3L555.0 161.7L558.3 161.2L561.3 161.9L564.3 162.3L567.4 160.8L570.3 162.5L573.3 162.0L569.9 161.3L566.7 159.8L563.3 158.7L559.5 157.6L555.6 157.2L551.7 157.0L548.3 157.6L545.0 156.7L541.7 157.8L538.3 157.0L534.1 156.0L530.0 154.5L531.7 151.2L534.9 152.1L538.3 152.0L542.5 151.0L546.7 150.3L543.3 148.7L540.0 148.2L536.7 147.7L533.3 147.8L530.2 146.0L526.7 145.3L525.0 142.8M486.7 118.7L490.0 119.4L493.4 118.3L496.7 119.5L499.6 118.9L502.7 118.4L505.5 117.2L508.7 117.6L511.7 117.0L514.9 118.8L518.3 120.3L522.2 121.2L526.1 121.7L530.0 121.2L534.0 121.3L537.9 122.4L541.7 123.7L544.0 125.6L546.7 127.0L543.5 128.7L540.2 129.7L536.7 130.3L533.3 131.3L530.2 133.1L526.7 133.7L523.6 134.9L520.8 136.4L518.3 138.7L516.5 142.5L513.3 145.3L510.8 147.2L508.0 148.7L505.3 150.3L503.3 152.8L499.9 152.8L496.7 152.0L493.7 149.9L491.7 147.0L487.8 144.7L483.3 143.7L481.7 140.3L484.0 137.3L485.0 133.7L487.1 130.8L490.0 128.7L490.0 123.7L488.2 121.2L486.7 118.7M558.3 113.7L561.5 115.7L565.0 117.0L569.1 118.0L573.3 117.8L576.5 116.2L580.1 115.9L583.3 114.5L586.7 112.8M633.3 133.7L636.5 135.4L640.0 136.2L643.3 137.9L646.7 139.5L650.4 142.0L653.3 145.3L657.2 147.6L660.0 151.2L663.2 149.5L666.7 148.7L670.2 147.5L673.3 145.3L673.3 139.5L670.3 138.0L668.3 135.3L665.3 134.4L663.3 132.0L666.6 130.1L670.0 128.7L668.3 125.3L664.3 125.6L660.5 124.8L656.7 123.7L653.4 124.8L650.0 124.2L646.7 124.5L643.2 125.4L640.0 127.0L642.6 128.6L645.0 130.3L640.0 132.0L636.8 133.5L633.3 133.7M655.0 176.2L657.3 173.9L660.0 172.0L662.6 170.5L665.0 168.7L668.1 170.3L671.7 170.3L673.5 173.5L676.7 175.3L675.0 179.5L670.9 180.4L666.7 180.3L662.2 179.9L658.3 177.8L655.0 176.2M596.7 178.7L601.7 177.0L605.0 177.6L608.3 177.8L611.7 177.0L611.7 182.0L607.5 182.9L603.3 183.7L600.0 183.2L596.7 183.7L596.7 178.7M606.7 127.8L611.7 126.2L615.7 127.6L620.0 127.8L618.3 130.3L615.0 130.1L611.7 130.3L606.7 127.8M661.7 183.7L664.8 185.2L668.3 185.3L670.0 188.0L670.0 191.2M680.0 150.3L677.7 152.3L675.0 153.7L673.3 157.0L676.8 158.3L680.0 160.3M680.0 113.7L683.5 113.8L686.7 115.3L690.1 115.7L693.3 114.5L697.7 114.5L701.7 116.2L705.9 115.6L710.0 114.5L714.3 114.6L718.3 116.2L722.5 116.3L726.7 117.0L730.8 116.0L735.0 115.3L739.2 115.2L743.3 116.2L747.5 115.4L751.7 114.5L755.8 115.8L760.0 117.0L763.3 116.4L766.7 116.9L770.0 116.2L773.3 115.6L776.7 115.6L780.0 116.2M680.0 125.3L683.2 123.4L686.7 122.0L689.7 121.9L692.7 121.8L695.6 123.3L698.6 123.3L701.7 122.8L705.1 122.4L708.4 123.2L711.7 123.7L710.4 127.2L708.3 130.3L705.0 131.5L701.8 132.9L698.3 133.7L695.0 135.3L691.7 137.0L688.6 139.0L686.7 142.0L684.0 139.6L681.7 137.0L680.7 133.6L679.2 130.3L680.0 125.3M660.0 125.3L663.3 125.2L666.7 125.2L670.0 124.5L669.0 127.8L666.7 130.3L668.6 132.9L670.5 135.3L673.3 137.0L672.3 141.1L671.7 145.3L669.1 147.3L666.0 148.4L663.3 150.3L660.0 152.0M675.0 155.3L677.0 153.0L678.6 150.5L680.0 147.8L683.8 146.9L687.8 148.1L691.7 147.0L693.5 150.8L696.7 153.7L699.3 156.4L701.5 159.3L704.2 162.0L701.9 165.9L698.3 168.7L695.9 170.7L695.0 173.7L690.6 174.8L686.7 177.0L684.3 179.6L681.9 182.3L680.0 185.3L680.8 188.9L680.9 192.5L680.8 196.2L677.7 195.3L675.0 193.7L673.5 190.3L671.7 187.0L668.0 186.0L665.0 183.7L660.0 182.0M660.0 169.5L663.5 169.4L666.7 167.8L669.5 169.2L672.3 170.5L675.0 172.0L677.3 174.1L678.3 177.0L674.9 178.4L671.7 180.3L667.6 178.9L663.3 178.7L660.0 175.3M718.3 132.0L721.2 130.5L723.6 128.3L726.7 127.0L730.7 126.7L734.3 124.7L738.3 124.5L742.4 125.5L746.7 125.3L743.2 127.7L740.0 130.3L739.5 134.6L738.3 138.7L740.5 141.5L742.6 144.4L745.0 147.0L747.7 148.3L750.0 150.3L746.4 151.4L743.3 153.7L739.1 153.0L735.0 152.0L731.1 149.7L726.7 148.7L722.7 146.4L718.3 145.3L716.7 140.3L717.7 137.4L720.0 135.3L718.3 132.0M746.7 132.0L749.6 130.6L752.0 128.4L755.0 127.0L758.4 127.2L761.7 126.7L765.0 126.3L768.3 126.2L771.4 128.1L775.0 128.7L778.1 130.6L780.0 133.7L777.4 136.9L775.0 140.3L777.7 142.2L780.0 144.5L784.1 143.3L788.3 143.7L791.2 141.5L793.3 138.7L796.7 137.9L800.2 137.7L803.4 136.3L806.7 135.3L809.3 136.8L811.2 139.4L814.6 139.8L816.7 142.0L820.0 144.2L821.9 147.9L825.0 150.3L828.1 151.1L831.1 152.1L833.8 154.0L837.1 154.0L840.0 155.3L843.0 157.6L846.6 158.9L850.1 160.1L853.3 162.0L857.0 163.0L860.0 165.3M721.7 155.3L726.0 156.6L730.0 158.7L733.9 161.1L738.3 162.0L741.4 162.3L744.4 162.4L747.4 163.1L750.2 164.7L753.3 164.5L756.8 164.5L759.9 166.2L763.5 165.7L766.7 167.0L770.3 166.7L773.4 164.8L776.7 163.7L779.8 162.0L783.3 162.0L781.4 159.0L778.3 157.0L782.6 157.6L786.7 158.7L789.4 160.7L792.5 162.0L795.8 163.0L798.3 165.3L801.1 166.8L803.4 168.9L805.7 170.9L808.2 172.7L810.0 175.3L813.6 175.7L816.4 178.3L820.0 178.7L823.2 180.3L825.5 183.1L828.3 185.3L830.2 188.0L831.3 191.0L831.6 194.3L833.3 197.0L836.5 198.6L840.0 198.7L843.3 197.0L846.1 198.6L849.3 199.6L851.7 202.0L848.4 202.9L846.5 206.0L843.3 207.0L840.5 205.5L837.8 203.6L835.0 202.0L830.7 202.1L826.7 203.7L823.0 205.7L820.0 208.7L822.4 211.3L825.0 213.7L822.6 216.3L820.0 218.7L816.6 218.6L813.2 219.1L810.0 220.3L806.1 219.7L802.2 219.9L798.3 220.3L795.0 217.0L798.0 214.7L801.7 213.7L805.2 215.0L808.3 217.0L811.7 218.7M698.3 168.7L701.2 169.5L704.0 170.9L707.2 170.7L710.0 172.0L711.4 175.5L713.5 178.6L715.0 182.0L717.6 180.1L719.1 177.2L721.7 175.3L725.0 177.0L728.3 178.7L729.9 182.7L730.0 187.0L732.9 190.0L735.0 193.7L738.2 192.7L740.4 190.0L743.3 188.7L745.1 185.6L745.6 182.0L746.7 178.7L745.8 174.5L746.7 170.3L750.1 170.3L753.2 168.4L756.7 168.7L759.4 170.1L762.7 169.5L765.3 171.5L768.3 172.0L770.5 175.1L771.7 178.7L769.4 181.4L766.7 183.7L766.7 188.0L768.3 192.0L771.7 195.3L768.8 197.0L765.7 198.4L762.7 200.0L760.0 202.0L756.4 201.0L753.6 198.1L750.0 197.0L751.0 201.4L753.3 205.3L749.7 204.2L746.7 202.0L742.5 201.9L738.3 202.0L740.3 205.2L741.7 208.7M710.0 208.7L714.2 209.1L718.3 208.7L721.7 209.6L724.2 212.0L726.8 214.1L730.0 215.3L731.3 218.9L733.3 222.0L731.6 224.7L728.5 226.0L726.7 228.7L723.3 229.1L720.0 228.1L716.7 228.7L713.3 230.3L710.0 232.0L706.9 231.9L704.1 230.3L701.1 229.5L698.1 229.0L695.0 228.7L697.5 231.1L701.1 231.6L704.0 233.3L706.7 235.3L704.9 238.0L702.2 239.7L700.0 242.0L697.9 244.9L695.8 247.7L693.3 250.3L692.1 253.3L691.2 256.3L690.4 259.4L688.3 262.0M735.0 232.0L737.8 230.3L740.3 228.3L743.3 227.0L743.8 223.1L745.2 219.3L745.0 215.3L746.7 210.3L749.7 211.5L752.1 213.9L755.0 215.3L757.8 217.2L761.0 218.3L763.8 220.3L766.7 222.0L767.6 225.7L770.0 228.7L773.4 229.5L776.5 231.3L780.0 232.0L776.7 235.3L773.6 233.4L769.9 232.9L767.0 230.5L763.4 229.8L760.0 228.7L756.7 230.3L753.3 232.0L749.8 234.2L746.7 237.0L743.3 234.6L740.0 232.0L735.0 232.0M756.7 245.3L759.7 244.4L762.3 242.5L765.7 242.3L768.3 240.3L765.8 243.6L763.3 247.0L760.0 247.5L756.7 247.0L756.7 245.3M780.0 250.3L782.4 248.6L785.0 247.0L786.7 252.0L783.3 255.3L782.3 252.4L780.0 250.3M795.0 248.7L799.4 247.5L803.3 245.3L806.7 245.9L810.0 246.2L813.3 247.0L816.6 246.5L820.1 247.3L823.3 246.2L826.6 247.0L828.9 249.7L831.8 251.1L835.0 252.0L838.0 253.2L840.7 255.1L843.3 257.0L847.5 258.8L851.7 260.3M795.0 222.0L797.6 220.2L800.0 218.1L801.7 215.3L805.7 217.0L810.0 217.0L813.5 217.7L816.8 218.7L820.0 220.3L823.3 221.1L826.7 222.0L829.4 224.3L832.0 226.7L835.0 228.7L838.1 231.6L840.0 235.3L842.0 237.7L843.9 240.3L846.7 242.0L849.7 244.3L853.3 245.3L856.5 246.9L860.0 247.0M800.0 190.3L803.1 187.5L805.0 183.7L808.1 185.3L811.7 185.3L813.3 188.5L813.3 192.0L809.7 193.0L806.7 195.3L803.6 194.9L800.8 193.7L800.0 190.3M786.7 175.3L789.0 173.4L791.7 172.0L793.3 175.3L788.3 177.0L786.7 175.3M820.0 148.0L822.7 149.9L825.3 152.0L829.0 151.1L832.0 148.7L834.6 150.5L837.3 152.0L842.7 154.7L846.8 155.7L850.7 157.3L856.0 160.0L854.2 162.8L852.0 165.3L856.1 165.4L860.0 164.0L863.0 166.5L866.7 168.0L868.0 173.3L864.9 174.0L861.8 173.8L858.7 173.3L856.0 178.7L859.4 179.8L862.7 181.3L866.3 183.6L869.3 186.7L872.9 187.0L876.5 186.6L880.0 187.3L882.6 189.8L885.3 192.0L884.0 196.0L887.1 196.8L890.2 196.6L893.3 196.0L896.7 196.7L899.8 198.2L902.7 200.0L905.3 204.0L900.0 206.7L896.0 210.7L892.0 213.3L890.7 218.7L887.9 216.1L885.3 213.3L882.9 210.5L880.0 208.0L876.6 206.9L873.3 205.3L869.1 203.7L865.3 201.3L862.7 204.0L858.7 205.3L861.3 209.3L864.2 212.5L866.7 216.0L869.1 218.3L870.7 221.3L874.5 223.3L878.7 224.0L881.3 229.3L884.0 232.0M820.0 180.0L823.2 181.7L826.7 182.7L829.5 185.9L832.0 189.3L833.3 194.7L829.3 198.7L833.3 199.7L837.3 200.0L841.3 196.0L844.9 197.8L848.4 199.6L852.0 201.3L852.0 205.3L848.5 206.0L844.9 206.2L841.3 206.7L838.4 203.9L834.7 202.7L830.5 203.5L826.7 205.3L821.3 208.0L822.8 211.6L825.3 214.7L820.0 216.0M820.0 221.3L823.6 222.0L826.7 224.0L830.7 228.0L836.0 230.7M932.0 113.3L936.0 116.0L937.3 119.1L938.9 122.1L940.0 125.3L943.2 127.5L945.3 130.7L949.3 134.7L945.3 138.7L944.0 137.3L944.2 141.3L944.0 145.3L941.3 148.0L944.5 149.4L946.7 152.0L949.9 150.9L953.3 150.7L956.3 149.1L958.7 146.7L962.6 147.7L966.7 148.0L968.0 151.2L970.7 153.6L972.2 156.7L973.3 160.0L974.7 162.7L970.4 162.2L966.7 160.0L963.2 160.0L959.9 159.4L956.8 157.2L953.3 157.3L950.7 158.7L953.3 160.6L956.8 160.8L959.7 162.3L962.1 164.8L965.3 165.3L966.7 170.7L963.5 171.0L960.5 171.8L957.3 172.0L953.3 170.7L949.3 169.3L948.0 164.0L951.3 162.9L954.7 162.7L957.9 163.2L961.1 163.8L964.4 163.8L967.6 164.8L970.9 163.9L974.1 165.1L977.3 165.3L976.5 169.3L977.3 173.3L973.3 176.0L970.2 177.9L966.7 178.7L961.3 181.3L960.7 185.3L960.0 189.3L956.0 192.0L957.8 194.8L960.0 197.3L957.3 202.7L958.7 208.0L961.5 210.5L964.0 213.3L964.1 216.7L965.8 219.5L966.7 222.7L966.7 226.7L970.0 224.0L973.3 221.3L976.8 221.4L980.0 220.0M961.3 181.3L966.7 184.0L970.7 186.7L974.4 187.9L977.3 190.7M733.3 221.7L731.1 223.8L730.0 226.7L727.0 228.9L723.3 230.0L718.3 228.3L716.0 231.4L713.3 234.2L710.1 233.2L706.9 232.3L703.5 232.0L700.5 230.6L697.3 229.6L694.2 228.3L697.1 230.1L700.3 231.0L703.7 231.4L706.7 233.0L709.9 233.8L713.3 234.2L710.5 236.2L707.9 238.5L704.5 239.6L701.7 241.7L699.7 244.6L697.9 247.8L695.0 250.0L692.6 252.0L691.0 254.5L689.9 257.5L688.3 260.0L687.3 263.3L686.4 266.6L685.1 269.8L685.0 273.3L685.9 276.9L686.5 280.6L687.5 284.2L690.7 284.5L693.7 285.4L696.7 286.7L697.7 289.6L699.2 292.3L700.6 295.1L700.8 298.3L700.8 303.3L704.4 302.5L708.1 302.7L711.7 301.7L715.1 302.4L718.1 304.5L721.7 305.0L723.9 307.8L726.5 310.2L728.7 313.0L731.7 315.0L735.5 316.9L738.3 320.0M735.0 233.3L739.0 231.1L743.3 230.0L744.3 233.7L746.7 236.7L750.3 235.7L753.3 233.3L755.3 230.7L758.3 229.2L762.6 228.4L766.7 226.7L770.3 227.1L773.3 229.2L777.0 230.7L780.0 233.3M761.7 220.0L765.4 221.9L768.3 225.0L771.0 226.4L773.3 228.3M756.7 245.0L759.9 242.7L763.3 240.8L766.7 241.6L770.0 240.8L766.7 245.0L762.5 246.4L758.3 247.5L756.7 245.0M780.0 250.8L782.1 248.2L785.0 246.7L786.2 249.9L786.7 253.3L783.3 255.0L780.0 250.8M793.3 235.0L796.7 235.8L799.8 234.1L803.3 234.2L802.5 236.7L799.3 236.9L796.4 235.7L793.3 235.0M800.0 320.0L801.7 317.5L803.3 315.0L803.7 310.7L805.0 306.7L804.8 303.3L804.3 300.0L805.0 296.7L802.7 293.2L800.0 290.0L796.6 287.7L793.3 285.0L794.5 281.9L796.7 279.4L798.3 276.7L798.7 273.2L800.0 270.0L797.2 266.9L795.0 263.3L796.1 259.7L798.3 256.7L797.1 253.9L795.0 251.7L796.7 246.7L799.9 245.4L803.3 245.0L806.4 246.9L810.1 247.1L813.3 248.3L817.1 247.2L821.2 247.6L825.0 246.7L827.3 248.7L829.6 250.6L832.9 251.1L835.0 253.3L837.1 257.0L840.0 260.0L843.2 261.2L846.7 260.8L850.0 261.7L850.1 265.8L850.0 270.0L849.4 273.3L849.6 276.7L848.1 279.9L848.3 283.3L851.6 284.5L855.0 285.0L857.4 287.2L860.6 288.3L863.3 290.0L866.7 288.9L869.8 287.3L873.3 286.7L874.7 283.2L877.0 280.2L879.1 277.0L880.0 273.3M795.0 220.0L796.7 225.0L800.1 224.9L803.5 225.3L806.7 226.7L809.8 224.8L813.3 224.3L816.7 223.3L820.9 223.4L825.0 222.5L828.3 226.7L831.1 227.9L833.4 230.0L835.8 231.7L838.3 233.3L840.0 238.3L841.2 241.2L843.3 243.3L846.4 243.6L849.4 244.2L852.1 245.8L855.0 246.7L858.4 247.8L861.8 249.0L864.8 251.1L868.2 252.3L871.7 253.3L876.0 253.4L880.0 255.0M855.0 231.7L859.1 232.6L863.3 233.3L865.8 236.0L868.4 238.4L871.7 240.0L873.6 243.0L873.4 246.8L875.0 250.0L873.3 251.7L870.1 250.0L868.2 246.8L865.4 244.5L863.2 241.7L860.0 240.0L858.5 237.1L856.0 234.8L855.0 231.7M860.0 287.7L869.3 286.5L876.3 280.7L883.3 270.2L892.7 283.0L899.7 292.3L904.3 301.7L900.8 307.5L909.0 313.3L911.3 322.7L923.0 327.3L930.0 329.7L913.7 336.7L912.5 341.3L927.7 334.3L939.3 341.3L941.7 355.3L934.7 360.0L923.0 367.0L918.3 371.7L895.0 374.0L871.7 375.2L860.0 381.0M941.7 360.0L939.3 374.0L944.0 383.3L958.0 392.7L962.7 406.7L951.0 409.0L939.3 402.0L925.3 402.0L918.3 397.3L923.0 383.3L923.0 369.3L934.7 360.0L941.7 360.0M860.0 231.7L862.6 228.7L864.3 225.2L867.0 222.3L870.2 225.2L874.0 227.0L877.6 228.7L880.4 231.4L883.3 234.0L882.2 237.0L882.4 240.4L881.0 243.3L877.4 244.3L874.0 245.7L870.7 247.7L867.5 250.0L864.7 252.7M965.0 224.7L968.1 227.6L972.0 229.3L975.6 231.5L979.0 234.0M350.0 163.3L333.3 160.8L316.7 160.0L306.7 159.2L300.0 155.0L286.7 155.0L283.3 156.7L281.7 151.7L276.7 150.8L270.0 153.3L258.3 156.7L255.0 160.0L243.3 161.7L236.7 165.0L230.0 173.3L220.0 176.7L213.3 178.3L210.8 181.7L216.7 185.0L225.0 190.0L231.7 195.0L238.3 196.7L243.3 200.0L253.3 203.3L246.7 205.0L236.7 206.7L231.7 203.3L225.0 201.7L213.3 208.3L203.3 210.0L205.0 213.3L213.3 215.0L215.0 221.7L223.3 223.3L233.3 225.0L241.7 223.3L248.3 220.0L250.0 226.7L246.7 233.3L236.7 236.7L230.0 238.3L223.3 243.3L216.7 250.0L215.0 256.7L220.0 260.0L226.7 261.7L233.3 263.3L231.7 266.7L225.0 268.3L226.7 275.0L233.3 273.3L240.0 271.7L243.3 280.0M156.7 196.7L160.0 200.0L163.3 196.7L175.0 197.5L183.3 201.7L190.0 206.7L183.3 208.3L180.0 212.5L173.3 211.7L170.0 215.0L171.7 220.0L168.3 225.0L161.7 223.3L156.7 220.0M176.7 231.7L183.3 233.3L193.3 236.7L190.0 238.3L180.0 235.0L176.7 231.7M206.7 270.0L213.3 268.3L216.7 271.7L211.7 273.3L206.7 270.0M230.0 326.7L236.7 323.3L243.3 320.0L251.7 316.7L260.0 311.7L268.3 306.7L278.3 303.3L280.0 298.3L286.7 293.3L295.0 288.3L298.3 283.3L293.3 280.0L296.7 275.0L303.3 268.3L308.3 263.3L315.0 258.3L323.3 258.3L326.7 261.7L320.0 268.3L313.3 276.7L310.0 280.0L316.7 278.3L325.0 271.7L330.0 270.0L331.7 265.0L330.0 260.0L335.0 258.3L340.0 261.7L345.0 265.0L350.0 266.7L356.7 268.3L361.7 271.7L368.3 271.7L376.7 270.0L386.7 275.0L396.7 280.0L405.0 283.3L410.0 290.0L416.7 296.7L423.3 305.0L430.0 310.0M230.0 260.0L233.3 263.3L240.0 270.0L243.3 283.3L251.7 283.3L263.3 281.7L273.3 285.0L266.7 300.0L258.3 305.0L246.7 311.7L236.7 318.3L230.0 323.3M291.7 300.0L296.7 293.3L303.3 288.3L306.7 290.0L301.7 298.3L295.0 303.3L291.7 300.0M360.0 163.3L373.3 165.0L381.7 170.0L393.3 171.7L403.3 175.0L416.7 178.3L415.0 173.3L420.0 170.0L430.0 168.3L438.3 166.7M430.0 175.0L436.7 170.0L446.7 165.0L453.3 165.0L450.0 168.3L436.7 176.7L431.7 178.3L430.0 175.0M443.3 171.7L446.6 170.5L449.9 170.1L453.3 170.0L455.7 168.2L457.9 166.0L461.0 165.3L463.3 163.3L464.3 160.4L466.7 158.3L468.3 160.0L471.5 162.9L473.3 166.7L476.2 169.8L480.0 171.7L483.3 168.3L486.7 166.7L487.9 169.5L490.0 171.7L493.1 169.6L496.7 168.3L499.9 167.2L503.3 166.7L506.5 168.1L510.0 168.3L513.2 170.2L516.9 171.3L520.0 173.3L523.3 173.8L526.6 175.1L530.0 175.0L533.4 174.5L536.6 176.7L540.0 176.4L543.3 176.7L546.8 177.2L549.8 179.4L553.3 180.0L556.7 183.3L552.8 185.7L548.3 186.7L550.9 188.2L553.3 190.0L556.7 189.3L560.0 188.3M495.0 150.0L498.5 151.3L501.7 153.3L506.0 153.2L510.0 151.7M528.3 153.3L532.4 155.3L536.7 156.7L539.7 154.5L543.1 152.8L546.7 151.7L549.9 150.5L553.3 151.0L556.6 149.9L560.0 150.0M535.0 165.0L539.2 164.2L543.3 163.3L546.7 163.9L550.0 164.0L553.3 162.6L556.7 163.0L560.0 163.3M380.8 165.0L380.8 263.3L393.3 270.0L403.3 280.0L410.0 283.3L416.7 276.7L426.7 286.7L435.0 296.7L438.3 300.0M380.0 250.0L381.7 268.3L395.0 276.7L403.3 283.3L411.7 290.0L420.0 301.7L428.3 308.3L436.7 316.7L445.0 321.7L450.0 328.3L453.3 336.7L460.0 345.0L470.0 353.3L476.7 363.3L486.7 371.7L496.7 380.0L501.7 391.7L503.3 400.0M411.7 283.3L420.0 293.3L428.3 305.0L436.7 313.3L441.7 321.7L436.7 323.3L428.3 316.7L420.0 306.7L413.3 296.7L411.7 283.3M433.3 336.7L440.0 343.3L441.7 350.0M451.7 338.3L460.0 346.7L466.7 356.7L470.0 361.7M410.0 288.3L416.7 280.0L425.0 285.0L433.3 293.3L441.7 303.3L446.7 313.3L445.0 323.3L436.7 326.7L430.0 320.0L421.7 310.0L415.0 300.0L410.0 288.3M415.0 295.0L421.7 288.3L428.3 298.3L433.3 308.3L438.3 318.3L434.2 322.5L426.7 310.0L420.0 301.7L415.0 295.0M400.0 276.7L410.0 275.0L416.7 273.3L426.7 281.7L438.3 293.3L448.3 306.7L453.3 316.7L451.7 326.7L450.0 336.7M431.7 333.3L438.3 338.3L441.7 350.0L438.3 351.7L433.3 343.3L431.7 333.3M450.0 336.7L456.7 340.0L463.3 346.7L470.0 353.3L471.7 360.0L466.7 366.7L473.3 373.3L486.7 376.7L493.3 386.7L500.0 396.7L501.7 405.0M463.3 366.7L476.7 375.0L486.7 381.7L496.7 390.0L500.0 401.7L496.7 406.7L488.3 400.0L478.3 386.7L466.7 376.7L463.3 370.0M455.0 340.0L460.0 343.3L461.7 348.3L456.7 346.7M406.7 281.7L413.3 286.7L420.0 293.3L410.0 291.7L406.7 281.7M349.0 163.3L361.0 163.3M223.8 330.0L227.5 326.2L237.5 321.2L245.0 316.2L252.5 313.8L260.0 307.5L267.5 302.5L275.0 300.0L280.0 300.0L267.5 307.5L260.0 313.8L250.0 318.8L242.5 322.5L235.0 326.2L225.0 331.2L223.8 330.0M208.8 335.0L214.4 335.6L211.9 340.6L208.8 335.0M199.4 340.6L202.5 340.0L204.4 341.9L200.6 343.1L199.4 340.6M160.0 352.5L161.9 351.5L163.1 354.0L160.6 355.0L160.0 352.5M737.8 320.3L748.3 322.4L766.1 323.4L766.8 340.4L771.4 351.0L776.6 362.7L783.2 364.8L788.5 356.3L789.1 335.1L795.7 324.5L800.3 320.3M860.1 381.2L849.0 396.6L839.1 411.4L830.5 417.8L824.0 425.2L816.1 430.5M839.1 411.4L847.0 404.0L856.8 393.4L870.0 387.0L884.5 389.2L881.2 396.6L873.9 397.6L881.2 400.8L880.5 411.4L882.5 416.7L887.8 418.8L896.3 423.1L902.9 424.1L906.2 427.3L896.3 432.6L886.4 436.9L876.6 446.4L872.6 441.1L876.6 431.6L883.1 427.3L885.1 428.4L879.9 426.3L873.3 428.4L866.7 431.6M902.9 424.1L908.8 417.8L910.1 409.3L904.2 411.4L902.9 418.8M883.8 413.5L893.0 415.7L899.6 415.7L893.7 418.8L886.4 416.7L883.8 413.5M884.5 378.6L893.0 380.7L900.9 386.0L893.0 386.0L884.5 378.6M866.7 432.6L860.1 436.9L853.6 440.0L847.0 443.2L843.0 450.6L841.1 457.0L845.7 462.3L847.0 465.5L843.0 467.1L839.7 467.6L833.8 469.7L823.3 472.9L820.7 477.1L820.0 485.6L814.8 495.2L810.8 489.9L813.4 499.4L811.5 505.8L808.2 514.2L805.6 515.3L804.2 501.5L806.9 488.8L808.2 505.8L805.6 516.4L808.2 519.5L810.8 533.3L804.2 539.7L797.7 541.8L791.1 548.2L786.5 554.5L779.9 561.9L774.0 569.4L772.0 582.1L772.7 590.6L777.3 606.5L780.6 626.6L778.6 640.4L774.0 641.4L769.4 631.9L766.8 623.4L763.5 613.9L762.8 603.3L756.9 590.6L752.9 589.5L746.4 592.7L740.4 585.3L731.9 586.3L725.3 585.3L718.1 587.4L719.4 596.9L714.1 599.0L707.6 596.9L700.3 593.7L690.5 592.7L684.6 595.9L678.6 603.3L672.1 607.5L667.5 614.9L666.8 626.6L668.1 632.4L664.8 651.0L664.2 667.9L667.5 679.6L672.7 696.6L676.7 708.2L685.9 714.6L697.7 710.3L705.6 711.4L712.2 697.6L712.8 684.9L728.6 678.5L735.2 679.6L732.6 693.4L730.6 711.4L727.3 710.3L726.6 725.2L724.7 737.9L731.2 740.0L741.8 738.4L752.9 740.0L760.2 748.5L758.2 764.4L757.5 780.3L756.9 790.9L760.2 801.5M820.7 477.1L833.8 472.9L834.5 471.8L824.0 474.0M847.0 465.5L846.3 461.8L847.3 463.4M701.7 412.5L708.9 410.4L712.8 413.5L726.0 405.1L730.6 405.1L738.5 414.6L749.0 414.6L751.0 411.4L749.7 400.8L743.1 398.7L738.5 390.2L726.6 394.5L718.1 398.7L710.2 402.9L701.7 412.5M729.9 459.1L731.9 465.5L736.5 464.4L738.5 457.0L740.4 446.4L738.5 435.8L744.4 428.4L748.3 422.0L741.8 420.4L735.2 423.1L731.2 432.6L729.9 441.1L729.3 451.7L729.9 459.1M750.3 422.0L758.9 427.3L759.5 437.9L764.8 449.6L770.0 446.4L772.7 431.6L780.6 434.7L777.9 421.0L768.7 418.8L755.6 418.8L750.3 422.0M758.2 465.5L764.8 468.7L774.6 463.4L782.5 460.2L788.5 452.8L779.9 455.9L769.4 459.1L761.5 462.3L758.2 465.5M782.5 449.6L787.8 448.5L800.9 448.5L806.2 446.4L805.6 439.0L800.9 440.0L791.1 442.2L784.5 445.3L782.5 449.6M499.8 388.1L501.7 395.5L502.4 404.0L498.5 408.2L500.4 397.6L495.2 396.6L487.3 394.5L491.2 410.4L491.9 417.2L491.2 441.1L488.6 453.8L490.6 472.9L493.2 485.6L498.5 501.5L501.7 506.8L502.4 513.2L505.7 519.5L509.6 528.0L514.2 540.7L522.8 543.9L528.7 548.2L535.9 557.7L537.3 563.0L540.5 570.4L544.5 585.3L546.5 591.6L553.7 600.1L557.6 606.5L556.3 612.8L564.2 624.5L570.1 635.1L570.8 644.6L578.0 654.2L587.9 664.8L583.9 651.0L579.3 649.9L574.1 637.2L569.5 621.3L565.5 611.8L560.3 599.0L553.7 584.2L553.0 571.5L564.2 576.8L569.5 591.6L577.4 611.8L587.9 631.9L597.1 642.5L607.6 661.6L614.8 679.6L613.5 691.3L620.8 705.0L636.5 716.7L649.7 727.3L662.9 734.7L676.0 741.1L685.9 735.8L700.3 752.7L706.3 760.2L716.8 764.4L728.6 767.6L733.2 770.8L737.2 778.2L743.7 789.8L743.7 801.5M496.5 388.1L681.6 388.1L681.6 383.9L685.2 391.3L695.7 392.3L705.6 397.6L718.1 398.7M751.0 414.6L754.3 414.6L755.6 418.8M765.4 451.7L764.8 455.9L760.8 462.3M787.8 452.8L787.1 449.6M805.6 439.0L812.1 431.6L816.1 430.5L837.1 430.5L839.9 427.3L842.4 425.2L847.0 412.5L852.2 404.5L858.8 405.6L861.4 409.3L861.4 423.1L866.7 432.6M537.6 388.1L537.6 415.7L538.6 419.9L541.2 425.2L538.6 439.0L537.9 443.2L537.9 462.3M491.9 417.2L498.5 417.8L511.6 423.6L521.5 421.0L524.8 419.9L538.6 419.9M490.6 462.3L577.0 462.3M518.2 462.3L518.2 494.1L553.7 536.5M557.3 462.3L557.3 523.8L553.7 527.0L553.7 536.5L553.0 560.9M537.3 563.0L553.0 560.9M552.4 563.0L577.4 575.4L595.8 575.4L595.8 570.6L607.0 570.6M607.0 570.6L616.8 583.1L620.1 593.7L628.7 600.1L633.9 591.6L640.5 591.6L647.7 605.4L653.0 616.0L655.6 627.7L668.1 632.4M544.2 388.1L544.2 399.8L547.8 406.1L553.7 413.5L558.3 424.1L561.6 431.6L565.5 436.9L577.0 435.8M577.0 430.5L623.1 430.5M577.0 435.8L577.0 472.9L590.2 472.9M590.2 472.9L590.2 575.4M557.3 515.3L636.2 515.3M590.2 472.9L636.2 472.9L636.2 483.5L680.6 483.5M636.2 472.9L636.2 515.3M623.1 388.1L623.1 472.9M623.1 451.7L659.6 451.7L666.1 453.3L673.0 457.0M623.1 420.5L672.3 420.5M668.1 388.1L670.7 404.0L672.3 420.5L673.0 427.3L673.0 446.4M673.0 446.4L707.6 446.4M673.0 457.0L674.7 467.6L677.3 477.1L680.6 483.5L683.2 493.0L685.2 493.0L685.2 520.6M629.6 515.3L629.6 568.3L606.3 568.3M630.0 520.6L649.7 520.6L649.7 540.7L662.9 546.0L676.0 549.2L685.9 551.3L688.8 551.9L688.8 557.7L688.8 573.6L690.1 592.7M685.2 520.6L686.2 532.3L685.9 551.3M677.6 477.1L706.3 477.1M685.2 520.6L714.5 520.6L712.8 525.9L717.4 525.9M688.8 557.7L707.9 557.7M707.9 557.7L708.2 568.3L704.9 578.9L717.1 578.9L718.7 587.4M727.3 536.5L725.7 585.3M713.5 536.5L752.9 536.5M744.4 536.5L748.3 563.0L748.3 578.9M731.2 578.9L748.3 578.9L749.0 582.1L768.1 583.1L771.4 582.1M718.7 520.6L770.0 519.5M752.9 536.5L770.0 519.5M760.8 536.5L775.3 535.4L790.4 548.7M760.8 536.5L767.4 543.9L774.6 567.2M756.9 519.5L808.2 520.1M756.9 519.5L764.8 510.0L764.1 500.5M777.3 477.1L770.0 492.0L764.1 500.5L749.7 493.0L741.8 504.7L728.6 506.8L721.4 515.3M721.4 515.3L714.1 498.3L706.3 479.3L708.2 467.6L711.5 457.0L707.6 446.4L697.0 425.2L700.3 412.5M711.5 457.0L729.9 457.0M731.9 464.9L731.9 494.1L728.6 506.8M749.7 465.5L749.7 493.0M731.9 465.5L758.2 465.5M777.9 462.3L777.9 486.7L808.8 486.5M764.8 510.0L774.6 512.1L781.2 504.7L787.8 492.0L796.3 490.9L800.9 495.2L805.6 504.7M777.9 462.3L811.5 462.3L816.1 469.2L820.7 472.9M816.1 469.2L813.4 483.5L810.8 488.8M808.8 486.7L808.8 499.9L813.8 499.9M825.0 430.5L825.6 454.3L824.0 471.8M837.1 430.5L830.9 454.7M825.6 454.7L840.4 454.7L841.7 452.8M824.0 461.8L835.1 461.8L835.1 469.7M839.9 427.3L842.4 450.6M712.8 413.5L728.0 422.0L731.2 429.4M749.0 675.4L761.5 664.8L768.1 662.1L781.2 662.6L797.7 676.4L809.5 683.8L819.4 693.4L814.1 696.6L796.3 696.6L794.4 688.1L784.5 679.6L771.4 673.2L761.5 674.3L752.3 676.4L749.0 675.4M817.4 712.5L828.6 696.6L840.4 696.6L853.6 702.9L858.2 710.3L848.3 714.6L837.8 720.9L828.6 715.6L818.0 713.5M792.4 712.5L805.6 714.6L802.3 717.8L793.1 714.6L792.4 712.5M865.4 711.4L875.9 712.5L874.6 716.7L865.4 716.7L865.4 711.4M794.4 624.5L799.6 625.5L795.7 622.4M795.7 642.5L797.7 651.0L793.1 647.8M806.2 641.4L802.9 645.7M282.1 693.4L287.4 697.6L289.3 700.8L283.4 707.2L281.4 698.7L282.1 693.4M276.8 684.9L281.4 687.0L278.2 689.1L276.8 684.9M267.0 679.6L270.3 681.7L267.6 681.7L267.0 679.6M257.1 673.2L259.7 674.3L257.8 675.4L257.1 673.2M272.9 682.8L276.8 683.8M810.8 796.2L819.4 788.8L830.5 783.5L835.1 776.1L838.4 784.5L834.5 793.0L836.5 803.6L840.4 806.8L838.4 792.0L845.7 784.5L848.3 786.7L858.2 796.2L872.0 795.1L885.1 796.2L893.0 794.1L899.6 795.1L902.9 800.4M893.3 723.1L895.3 725.7M899.9 725.2L901.9 727.8M901.2 733.7L903.2 736.3M903.2 742.1L905.2 744.8M905.2 750.6L907.2 753.3M905.2 759.1L907.2 761.8M903.9 766.5L905.8 769.2M900.6 778.2L902.5 780.8M879.5 711.9L881.5 714.6M915.0 767.6L917.0 770.2M701.0 753.8L701.0 746.4L704.3 736.8L712.8 736.8L712.8 718.8L721.0 718.8L720.7 739.0M727.3 741.1L720.7 747.4L720.1 754.9L729.9 765.5M720.1 754.9L714.8 762.3M733.2 769.7L743.1 760.2L750.3 751.7L760.2 748.5M743.7 789.8L756.9 792.0M779.2 661.6L781.9 672.2"/>
<path fill="none" stroke="#00ffff" stroke-width="1" d="M373.3 165.0L373.3 270.8L386.7 275.0L405.0 281.7L420.0 282.5L443.3 311.7L445.8 314.2L445.8 324.2L425.8 324.2L431.7 345.0L458.3 373.3L484.2 397.5L491.7 388.3L701.2 388.0L740.0 408.0L770.0 430.0L787.0 451.0L814.0 430.0L840.0 430.0L854.0 409.0L860.0 409.0L872.0 451.0L932.0 409.0L959.0 419.0L964.0 398.0L948.0 360.0L930.4 329.2L884.6 260.4L467.5 155.0L426.7 159.2L373.3 165.0"/>
<path fill="none" stroke="#ffff00" stroke-width="1" d="M379.2 164.4L272.9 143.7L209.3 176.7L209.3 182.8L220.3 196.2L195.9 208.4L208.1 229.2L233.8 229.2L209.3 250.0L216.7 262.2L206.9 269.6L219.1 273.2L248.4 291.6L266.8 292.8L254.6 311.1L195.9 335.6L195.9 355.1L253.3 333.1L280.2 303.8L294.9 313.6L319.3 283.0L341.3 281.8L346.2 272.0L387.8 281.8L385.0 281.7L405.0 303.3L425.0 324.2L438.3 335.0L451.7 335.0L451.7 313.3L420.0 271.7L399.2 271.7L379.2 261.7L379.2 164.4M483.8 377.5L728.8 377.5L767.5 430.0L767.5 452.5L760.0 462.0L786.0 442.0L806.0 430.0L834.0 430.0L854.0 398.0L860.0 398.0L866.0 408.0L872.0 430.0L870.0 442.0L848.0 452.0L854.0 472.0L836.0 480.0L826.7 483.3L813.3 536.7L774.0 578.0L787.5 642.0L767.2 642.0L754.5 599.0L695.0 599.0L675.0 610.0L668.6 641.0L656.7 630.0L643.8 599.0L623.3 598.3L610.0 578.3L576.7 578.3L516.7 556.7L483.3 483.3L483.8 377.5"/>
</g>
<rect x="156.5" y="112.5" width="822" height="689" fill="none" stroke="#000" stroke-width="1"/>
<path d="M255.5 801V793M255.5 112V120M386.5 801V793M386.5 112V120M518.5 801V793M518.5 112V120M649.5 801V793M649.5 112V120M781.5 801V793M781.5 112V120M912.5 801V793M912.5 112V120M156 165.5H164M978 165.5H970M156 271.5H164M978 271.5H970M156 377.5H164M978 377.5H970M156 483.5H164M978 483.5H970M156 589.5H164M978 589.5H970M156 695.5H164M978 695.5H970" stroke="#000" stroke-width="1" fill="none"/>
<rect x="1010.5" y="790.75" width="42" height="11.05" fill="#00008f"/>
<rect x="1010.5" y="780.00" width="42" height="11.05" fill="#00009f"/>
<rect x="1010.5" y="769.25" width="42" height="11.05" fill="#0000af"/>
<rect x="1010.5" y="758.50" width="42" height="11.05" fill="#0000bf"/>
<rect x="1010.5" y="747.75" width="42" height="11.05" fill="#0000cf"/>
<rect x="1010.5" y="737.00" width="42" height="11.05" fill="#0000df"/>
<rect x="1010.5" y="726.25" width="42" height="11.05" fill="#0000ef"/>
<rect x="1010.5" y="715.50" width="42" height="11.05" fill="#0000ff"/>
<rect x="1010.5" y="704.75" width="42" height="11.05" fill="#0010ff"/>
<rect x="1010.5" y="694.00" width="42" height="11.05" fill="#0020ff"/>
<rect x="1010.5" y="683.25" width="42" height="11.05" fill="#0030ff"/>
<rect x="1010.5" y="672.50" width="42" height="11.05" fill="#0040ff"/>
<rect x="1010.5" y="661.75" width="42" height="11.05" fill="#0050ff"/>
<rect x="1010.5" y="651.00" width="42" height="11.05" fill="#0060ff"/>
<rect x="1010.5" y="640.25" width="42" height="11.05" fill="#0070ff"/>
<rect x="1010.5" y="629.50" width="42" height="11.05" fill="#0080ff"/>
<rect x="1010.5" y="618.75" width="42" height="11.05" fill="#008fff"/>
<rect x="1010.5" y="608.00" width="42" height="11.05" fill="#009fff"/>
<rect x="1010.5" y="597.25" width="42" height="11.05" fill="#00afff"/>
<rect x="1010.5" y="586.50" width="42" height="11.05" fill="#00bfff"/>
<rect x="1010.5" y="575.75" width="42" height="11.05" fill="#00cfff"/>
<rect x="1010.5" y="565.00" width="42" height="11.05" fill="#00dfff"/>
<rect x="1010.5" y="554.25" width="42" height="11.05" fill="#00efff"/>
<rect x="1010.5" y="543.50" width="42" height="11.05" fill="#00ffff"/>
<rect x="1010.5" y="532.75" width="42" height="11.05" fill="#10ffef"/>
<rect x="1010.5" y="522.00" width="42" height="11.05" fill="#20ffdf"/>
<rect x="1010.5" y="511.25" width="42" height="11.05" fill="#30ffcf"/>
<rect x="1010.5" y="500.50" width="42" height="11.05" fill="#40ffbf"/>
<rect x="1010.5" y="489.75" width="42" height="11.05" fill="#50ffaf"/>
<rect x="1010.5" y="479.00" width="42" height="11.05" fill="#60ff9f"/>
<rect x="1010.5" y="468.25" width="42" height="11.05" fill="#70ff8f"/>
<rect x="1010.5" y="457.50" width="42" height="11.05" fill="#80ff80"/>
<rect x="1010.5" y="446.75" width="42" height="11.05" fill="#8fff70"/>
<rect x="1010.5" y="436.00" width="42" height="11.05" fill="#9fff60"/>
<rect x="1010.5" y="425.25" width="42" height="11.05" fill="#afff50"/>
<rect x="1010.5" y="414.50" width="42" height="11.05" fill="#bfff40"/>
<rect x="1010.5" y="403.75" width="42" height="11.05" fill="#cfff30"/>
<rect x="1010.5" y="393.00" width="42" height="11.05" fill="#dfff20"/>
<rect x="1010.5" y="382.25" width="42" height="11.05" fill="#efff10"/>
<rect x="1010.5" y="371.50" width="42" height="11.05" fill="#ffff00"/>
<rect x="1010.5" y="360.75" width="42" height="11.05" fill="#ffef00"/>
<rect x="1010.5" y="350.00" width="42" height="11.05" fill="#ffdf00"/>
<rect x="1010.5" y="339.25" width="42" height="11.05" fill="#ffcf00"/>
<rect x="1010.5" y="328.50" width="42" height="11.05" fill="#ffbf00"/>
<rect x="1010.5" y="317.75" width="42" height="11.05" fill="#ffaf00"/>
<rect x="1010.5" y="307.00" width="42" height="11.05" fill="#ff9f00"/>
<rect x="1010.5" y="296.25" width="42" height="11.05" fill="#ff8f00"/>
<rect x="1010.5" y="285.50" width="42" height="11.05" fill="#ff8000"/>
<rect x="1010.5" y="274.75" width="42" height="11.05" fill="#ff7000"/>
<rect x="1010.5" y="264.00" width="42" height="11.05" fill="#ff6000"/>
<rect x="1010.5" y="253.25" width="42" height="11.05" fill="#ff5000"/>
<rect x="1010.5" y="242.50" width="42" height="11.05" fill="#ff4000"/>
<rect x="1010.5" y="231.75" width="42" height="11.05" fill="#ff3000"/>
<rect x="1010.5" y="221.00" width="42" height="11.05" fill="#ff2000"/>
<rect x="1010.5" y="210.25" width="42" height="11.05" fill="#ff1000"/>
<rect x="1010.5" y="199.50" width="42" height="11.05" fill="#ff0000"/>
<rect x="1010.5" y="188.75" width="42" height="11.05" fill="#ef0000"/>
<rect x="1010.5" y="178.00" width="42" height="11.05" fill="#df0000"/>
<rect x="1010.5" y="167.25" width="42" height="11.05" fill="#cf0000"/>
<rect x="1010.5" y="156.50" width="42" height="11.05" fill="#bf0000"/>
<rect x="1010.5" y="145.75" width="42" height="11.05" fill="#af0000"/>
<rect x="1010.5" y="135.00" width="42" height="11.05" fill="#9f0000"/>
<rect x="1010.5" y="124.25" width="42" height="11.05" fill="#8f0000"/>
<rect x="1010.5" y="113.50" width="42" height="11.05" fill="#800000"/>
<rect x="1010.5" y="113.5" width="42" height="688.0" fill="none" stroke="#000" stroke-width="1"/>
<path d="M1010 572.5H1017M1052 572.5H1045M1010 342.5H1017M1052 342.5H1045" stroke="#000" stroke-width="1" fill="none"/>
<text x="251.00" y="20.00" font-size="25" font-family="Liberation Mono" transform="matrix(1 0 0 0.923 0 1.540)" stroke="#fff" stroke-width="0.2" paint-order="fill stroke" fill="#000" xml:space="preserve">Shadow Raytheon 2 LPV200 Coverage Contours</text>
<text x="505.40" y="46.00" font-size="25" font-family="Liberation Mono" transform="matrix(1 0 0 0.923 0 3.542)" stroke="#fff" stroke-width="0.2" paint-order="fill stroke" fill="#000" xml:space="preserve">10/29/25</text>
<text x="454.10" y="72.00" font-size="25" font-family="Liberation Mono" transform="matrix(1 0 0 0.923 0 5.544)" stroke="#fff" stroke-width="0.2" paint-order="fill stroke" fill="#000" xml:space="preserve">Week 2390 Day 3</text>
<text x="518.90" y="845.00" font-size="18.5" font-family="Liberation Mono" font-weight="bold" fill="#000" xml:space="preserve">Longitude</text>
<text transform="translate(112.8,499.7) rotate(-90)" font-size="18.5" font-family="Liberation Mono" font-weight="bold" fill="#000">Latitude</text>
<text x="219.79" y="823.80" font-size="21.67" font-family="Liberation Mono" stroke="#fff" stroke-width="0.2" paint-order="fill stroke" fill="#000" xml:space="preserve">-160</text>
<text x="351.31" y="823.80" font-size="21.67" font-family="Liberation Mono" stroke="#fff" stroke-width="0.2" paint-order="fill stroke" fill="#000" xml:space="preserve">-140</text>
<text x="482.83" y="823.80" font-size="21.67" font-family="Liberation Mono" stroke="#fff" stroke-width="0.2" paint-order="fill stroke" fill="#000" xml:space="preserve">-120</text>
<text x="614.35" y="823.80" font-size="21.67" font-family="Liberation Mono" stroke="#fff" stroke-width="0.2" paint-order="fill stroke" fill="#000" xml:space="preserve">-100</text>
<text x="745.87" y="823.80" font-size="21.67" font-family="Liberation Mono" stroke="#fff" stroke-width="0.2" paint-order="fill stroke" fill="#000" xml:space="preserve">-80</text>
<text x="877.39" y="823.80" font-size="21.67" font-family="Liberation Mono" stroke="#fff" stroke-width="0.2" paint-order="fill stroke" fill="#000" xml:space="preserve">-60</text>
<text x="123.50" y="170.80" font-size="21.67" font-family="Liberation Mono" stroke="#fff" stroke-width="0.2" paint-order="fill stroke" fill="#000" xml:space="preserve">70</text>
<text x="123.50" y="276.80" font-size="21.67" font-family="Liberation Mono" stroke="#fff" stroke-width="0.2" paint-order="fill stroke" fill="#000" xml:space="preserve">60</text>
<text x="123.50" y="382.80" font-size="21.67" font-family="Liberation Mono" stroke="#fff" stroke-width="0.2" paint-order="fill stroke" fill="#000" xml:space="preserve">50</text>
<text x="123.50" y="488.80" font-size="21.67" font-family="Liberation Mono" stroke="#fff" stroke-width="0.2" paint-order="fill stroke" fill="#000" xml:space="preserve">40</text>
<text x="123.50" y="594.80" font-size="21.67" font-family="Liberation Mono" stroke="#fff" stroke-width="0.2" paint-order="fill stroke" fill="#000" xml:space="preserve">30</text>
<text x="123.50" y="700.80" font-size="21.67" font-family="Liberation Mono" stroke="#fff" stroke-width="0.2" paint-order="fill stroke" fill="#000" xml:space="preserve">20</text>
<text x="123.50" y="806.80" font-size="21.67" font-family="Liberation Mono" stroke="#fff" stroke-width="0.2" paint-order="fill stroke" fill="#000" xml:space="preserve">10</text>
<text x="1058.30" y="120.40" font-size="20" font-family="Liberation Sans" transform="matrix(1 0 0 1.09 0 -10.836)" fill="#000" xml:space="preserve">1</text>
<text x="1058.30" y="349.73" font-size="20" font-family="Liberation Sans" transform="matrix(1 0 0 1.09 0 -31.476)" fill="#000" xml:space="preserve">0.95</text>
<text x="1058.30" y="579.07" font-size="20" font-family="Liberation Sans" transform="matrix(1 0 0 1.09 0 -52.116)" fill="#000" xml:space="preserve">0.9</text>
<text x="1058.30" y="808.40" font-size="20" font-family="Liberation Sans" transform="matrix(1 0 0 1.09 0 -72.756)" fill="#000" xml:space="preserve">0.85</text>
<text x="161.90" y="530.00" font-size="15" font-family="Liberation Mono" stroke="#fff" stroke-width="0.2" paint-order="fill stroke" fill="#000" xml:space="preserve">Percent| CONUS   | Alaska  | Canada</text>
<text x="161.90" y="550.80" font-size="15" font-family="Liberation Mono" stroke="#fff" stroke-width="0.2" paint-order="fill stroke" fill="#000" xml:space="preserve"> Avail.|Coverage |Coverage | Coverage</text>
<text x="161.90" y="572.50" font-size="15" font-family="Liberation Mono" stroke="#fff" stroke-width="0.2" paint-order="fill stroke" fill="#000" xml:space="preserve">  95   | 100.00%  | 92.07% | 50.48%</text>
<text x="161.90" y="593.70" font-size="15" font-family="Liberation Mono" stroke="#fff" stroke-width="0.2" paint-order="fill stroke" fill="#000" xml:space="preserve">  98   | 99.62%  | 81.14% | 42.10%</text>
<text x="161.90" y="614.90" font-size="15" font-family="Liberation Mono" stroke="#fff" stroke-width="0.2" paint-order="fill stroke" fill="#000" xml:space="preserve">  99   | 98.75%  | 73.66% | 36.43%</text>
<text x="161.90" y="636.10" font-size="15" font-family="Liberation Mono" stroke="#fff" stroke-width="0.2" paint-order="fill stroke" fill="#000" xml:space="preserve">99.9   | 95.85%  | 61.14% | 30.81%</text>
<text x="161.90" y="657.30" font-size="15" font-family="Liberation Mono" stroke="#fff" stroke-width="0.2" paint-order="fill stroke" fill="#000" xml:space="preserve"> 100   | 95.02%  | 60.36% | 29.68%</text>
<path d="M163 557.5H503" stroke="#000" stroke-width="1.3" stroke-dasharray="6 3" fill="none"/>
<text x="188.00" y="746.50" font-size="9.9" font-family="Liberation Mono" transform="matrix(1 0 0 1.27 0 -201.555)" fill="#000" xml:space="preserve">W.J.H. FAA Technical Center</text>
<text x="188.00" y="759.25" font-size="9.9" font-family="Liberation Mono" transform="matrix(1 0 0 1.27 0 -204.998)" fill="#000" xml:space="preserve">WAAS Test Team</text>
</svg>
</body></html>
